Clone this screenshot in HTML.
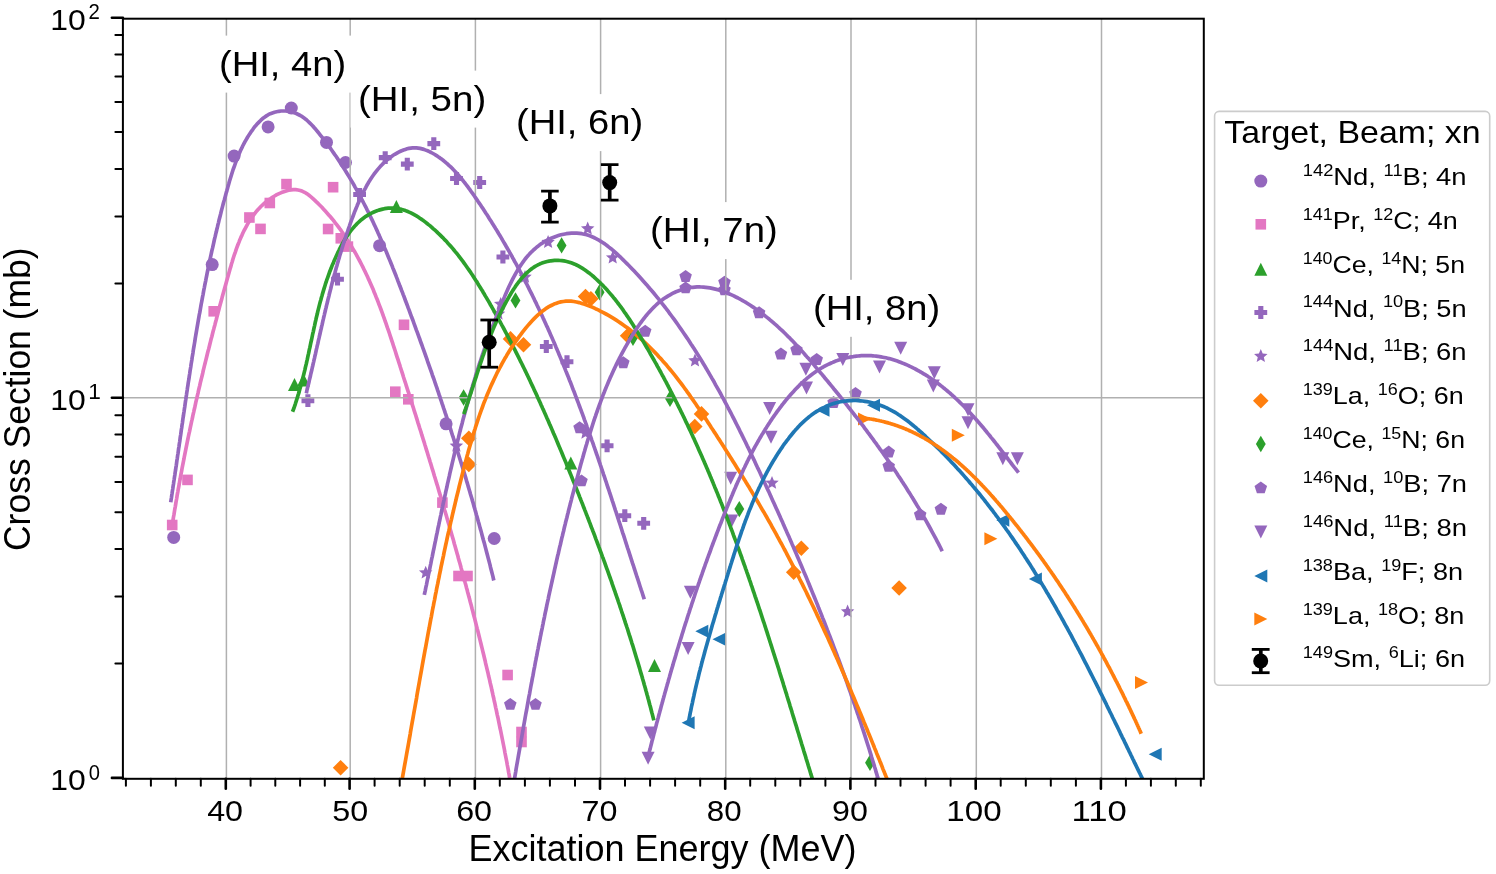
<!DOCTYPE html><html><head><meta charset="utf-8"><style>html,body{margin:0;padding:0;background:#fff;}svg{display:block;will-change:transform;}text{font-family:"Liberation Sans",sans-serif;}</style></head><body>
<svg width="1496" height="874" viewBox="0 0 1496 874">
<rect width="1496" height="874" fill="#fff"/>
<defs><clipPath id="ax"><rect x="122.9" y="18.7" width="1080.9" height="760.1"/></clipPath></defs>
<g clip-path="url(#ax)">
<g fill="#9467bd">
<circle cx="173.70" cy="537.40" r="6.50"/>
<circle cx="212.20" cy="264.60" r="6.50"/>
<circle cx="234.10" cy="156.10" r="6.50"/>
<circle cx="268.10" cy="126.90" r="6.50"/>
<circle cx="291.30" cy="108.00" r="6.50"/>
<circle cx="326.50" cy="142.40" r="6.50"/>
<circle cx="345.50" cy="162.50" r="6.50"/>
<circle cx="379.60" cy="245.70" r="6.50"/>
<circle cx="446.10" cy="423.80" r="6.50"/>
<circle cx="494.20" cy="538.50" r="6.50"/>
</g>
<g fill="#e377c2">
<rect x="166.90" y="519.70" width="10.60" height="10.60"/>
<rect x="182.20" y="474.60" width="10.60" height="10.60"/>
<rect x="208.40" y="306.00" width="10.60" height="10.60"/>
<rect x="244.10" y="212.20" width="10.60" height="10.60"/>
<rect x="255.20" y="223.60" width="10.60" height="10.60"/>
<rect x="264.50" y="197.70" width="10.60" height="10.60"/>
<rect x="281.20" y="178.80" width="10.60" height="10.60"/>
<rect x="327.80" y="181.90" width="10.60" height="10.60"/>
<rect x="322.80" y="223.70" width="10.60" height="10.60"/>
<rect x="335.50" y="233.00" width="10.60" height="10.60"/>
<rect x="342.60" y="241.30" width="10.60" height="10.60"/>
<rect x="390.00" y="386.40" width="10.60" height="10.60"/>
<rect x="398.70" y="319.50" width="10.60" height="10.60"/>
<rect x="403.00" y="394.00" width="10.60" height="10.60"/>
<rect x="437.10" y="497.30" width="10.60" height="10.60"/>
<rect x="453.20" y="570.70" width="10.60" height="10.60"/>
<rect x="462.20" y="570.70" width="10.60" height="10.60"/>
<rect x="502.30" y="669.70" width="10.60" height="10.60"/>
<rect x="516.20" y="726.70" width="10.60" height="10.60"/>
<rect x="516.20" y="736.70" width="10.60" height="10.60"/>
</g>
<g fill="#2ca02c">
<path d="M294.50,378.00 L288.00,391.00 L301.00,391.00Z"/>
<path d="M303.50,373.50 L297.00,386.50 L310.00,386.50Z"/>
<path d="M396.40,199.90 L389.90,212.90 L402.90,212.90Z"/>
<path d="M570.80,456.50 L564.30,469.50 L577.30,469.50Z"/>
<path d="M654.50,659.00 L648.00,672.00 L661.00,672.00Z"/>
</g>
<g fill="#9467bd">
<path d="M305.34,394.30 L310.46,394.30 L310.46,398.14 L314.30,398.14 L314.30,403.26 L310.46,403.26 L310.46,407.10 L305.34,407.10 L305.34,403.26 L301.50,403.26 L301.50,398.14 L305.34,398.14Z"/>
<path d="M334.94,272.80 L340.06,272.80 L340.06,276.64 L343.90,276.64 L343.90,281.76 L340.06,281.76 L340.06,285.60 L334.94,285.60 L334.94,281.76 L331.10,281.76 L331.10,276.64 L334.94,276.64Z"/>
<path d="M357.04,188.10 L362.16,188.10 L362.16,191.94 L366.00,191.94 L366.00,197.06 L362.16,197.06 L362.16,200.90 L357.04,200.90 L357.04,197.06 L353.20,197.06 L353.20,191.94 L357.04,191.94Z"/>
<path d="M382.64,151.20 L387.76,151.20 L387.76,155.04 L391.60,155.04 L391.60,160.16 L387.76,160.16 L387.76,164.00 L382.64,164.00 L382.64,160.16 L378.80,160.16 L378.80,155.04 L382.64,155.04Z"/>
<path d="M404.74,157.70 L409.86,157.70 L409.86,161.54 L413.70,161.54 L413.70,166.66 L409.86,166.66 L409.86,170.50 L404.74,170.50 L404.74,166.66 L400.90,166.66 L400.90,161.54 L404.74,161.54Z"/>
<path d="M431.24,137.20 L436.36,137.20 L436.36,141.04 L440.20,141.04 L440.20,146.16 L436.36,146.16 L436.36,150.00 L431.24,150.00 L431.24,146.16 L427.40,146.16 L427.40,141.04 L431.24,141.04Z"/>
<path d="M453.94,172.10 L459.06,172.10 L459.06,175.94 L462.90,175.94 L462.90,181.06 L459.06,181.06 L459.06,184.90 L453.94,184.90 L453.94,181.06 L450.10,181.06 L450.10,175.94 L453.94,175.94Z"/>
<path d="M477.14,176.10 L482.26,176.10 L482.26,179.94 L486.10,179.94 L486.10,185.06 L482.26,185.06 L482.26,188.90 L477.14,188.90 L477.14,185.06 L473.30,185.06 L473.30,179.94 L477.14,179.94Z"/>
<path d="M500.34,250.60 L505.46,250.60 L505.46,254.44 L509.30,254.44 L509.30,259.56 L505.46,259.56 L505.46,263.40 L500.34,263.40 L500.34,259.56 L496.50,259.56 L496.50,254.44 L500.34,254.44Z"/>
<path d="M543.74,340.10 L548.86,340.10 L548.86,343.94 L552.70,343.94 L552.70,349.06 L548.86,349.06 L548.86,352.90 L543.74,352.90 L543.74,349.06 L539.90,349.06 L539.90,343.94 L543.74,343.94Z"/>
<path d="M564.44,355.30 L569.56,355.30 L569.56,359.14 L573.40,359.14 L573.40,364.26 L569.56,364.26 L569.56,368.10 L564.44,368.10 L564.44,364.26 L560.60,364.26 L560.60,359.14 L564.44,359.14Z"/>
<path d="M604.54,439.40 L609.66,439.40 L609.66,443.24 L613.50,443.24 L613.50,448.36 L609.66,448.36 L609.66,452.20 L604.54,452.20 L604.54,448.36 L600.70,448.36 L600.70,443.24 L604.54,443.24Z"/>
<path d="M622.24,509.30 L627.36,509.30 L627.36,513.14 L631.20,513.14 L631.20,518.26 L627.36,518.26 L627.36,522.10 L622.24,522.10 L622.24,518.26 L618.40,518.26 L618.40,513.14 L622.24,513.14Z"/>
<path d="M641.14,516.90 L646.26,516.90 L646.26,520.74 L650.10,520.74 L650.10,525.86 L646.26,525.86 L646.26,529.70 L641.14,529.70 L641.14,525.86 L637.30,525.86 L637.30,520.74 L641.14,520.74Z"/>
</g>
<g fill="#9467bd">
<path d="M425.70,565.70 L423.82,570.22 L418.95,570.61 L422.66,573.79 L421.53,578.54 L425.70,576.00 L429.87,578.54 L428.74,573.79 L432.45,570.61 L427.58,570.22Z"/>
<path d="M456.40,438.80 L454.52,443.32 L449.65,443.71 L453.36,446.89 L452.23,451.64 L456.40,449.09 L460.57,451.64 L459.44,446.89 L463.15,443.71 L458.28,443.32Z"/>
<path d="M498.50,306.80 L496.62,311.32 L491.75,311.71 L495.46,314.89 L494.33,319.64 L498.50,317.09 L502.67,319.64 L501.54,314.89 L505.25,311.71 L500.38,311.32Z"/>
<path d="M500.70,297.00 L498.82,301.52 L493.95,301.91 L497.66,305.09 L496.53,309.84 L500.70,307.30 L504.87,309.84 L503.74,305.09 L507.45,301.91 L502.58,301.52Z"/>
<path d="M525.00,269.90 L523.12,274.42 L518.25,274.81 L521.96,277.99 L520.83,282.74 L525.00,280.19 L529.17,282.74 L528.04,277.99 L531.75,274.81 L526.88,274.42Z"/>
<path d="M548.10,235.10 L546.22,239.62 L541.35,240.01 L545.06,243.19 L543.93,247.94 L548.10,245.39 L552.27,247.94 L551.14,243.19 L554.85,240.01 L549.98,239.62Z"/>
<path d="M587.70,221.60 L585.82,226.12 L580.95,226.51 L584.66,229.69 L583.53,234.44 L587.70,231.89 L591.87,234.44 L590.74,229.69 L594.45,226.51 L589.58,226.12Z"/>
<path d="M612.70,250.70 L610.82,255.22 L605.95,255.61 L609.66,258.79 L608.53,263.54 L612.70,261.00 L616.87,263.54 L615.74,258.79 L619.45,255.61 L614.58,255.22Z"/>
<path d="M585.50,425.90 L583.62,430.42 L578.75,430.81 L582.46,433.99 L581.33,438.74 L585.50,436.19 L589.67,438.74 L588.54,433.99 L592.25,430.81 L587.38,430.42Z"/>
<path d="M695.00,353.60 L693.12,358.12 L688.25,358.51 L691.96,361.69 L690.83,366.44 L695.00,363.89 L699.17,366.44 L698.04,361.69 L701.75,358.51 L696.88,358.12Z"/>
<path d="M772.00,475.90 L770.12,480.42 L765.25,480.81 L768.96,483.99 L767.83,488.74 L772.00,486.19 L776.17,488.74 L775.04,483.99 L778.75,480.81 L773.88,480.42Z"/>
<path d="M847.60,604.60 L845.72,609.12 L840.85,609.51 L844.56,612.69 L843.43,617.44 L847.60,614.90 L851.77,617.44 L850.64,612.69 L854.35,609.51 L849.48,609.12Z"/>
</g>
<g fill="#ff7f0e">
<path d="M340.60,759.92 L348.38,767.70 L340.60,775.48 L332.82,767.70Z"/>
<path d="M468.80,430.42 L476.58,438.20 L468.80,445.98 L461.02,438.20Z"/>
<path d="M468.80,456.62 L476.58,464.40 L468.80,472.18 L461.02,464.40Z"/>
<path d="M510.50,331.12 L518.28,338.90 L510.50,346.68 L502.72,338.90Z"/>
<path d="M523.50,337.02 L531.28,344.80 L523.50,352.58 L515.72,344.80Z"/>
<path d="M585.50,288.72 L593.28,296.50 L585.50,304.28 L577.72,296.50Z"/>
<path d="M590.90,290.92 L598.68,298.70 L590.90,306.48 L583.12,298.70Z"/>
<path d="M627.60,327.92 L635.38,335.70 L627.60,343.48 L619.82,335.70Z"/>
<path d="M694.80,418.72 L702.58,426.50 L694.80,434.28 L687.02,426.50Z"/>
<path d="M701.50,406.12 L709.28,413.90 L701.50,421.68 L693.72,413.90Z"/>
<path d="M801.30,540.52 L809.08,548.30 L801.30,556.08 L793.52,548.30Z"/>
<path d="M793.70,564.42 L801.48,572.20 L793.70,579.98 L785.92,572.20Z"/>
<path d="M899.10,580.22 L906.88,588.00 L899.10,595.78 L891.32,588.00Z"/>
</g>
<g fill="#2ca02c">
<path d="M463.60,389.30 L468.52,397.50 L463.60,405.70 L458.68,397.50Z"/>
<path d="M515.50,292.20 L520.42,300.40 L515.50,308.60 L510.58,300.40Z"/>
<path d="M561.60,237.20 L566.52,245.40 L561.60,253.60 L556.68,245.40Z"/>
<path d="M599.60,284.00 L604.52,292.20 L599.60,300.40 L594.68,292.20Z"/>
<path d="M633.00,329.60 L637.92,337.80 L633.00,346.00 L628.08,337.80Z"/>
<path d="M670.00,390.50 L674.92,398.70 L670.00,406.90 L665.08,398.70Z"/>
<path d="M739.30,500.90 L744.22,509.10 L739.30,517.30 L734.38,509.10Z"/>
<path d="M870.00,754.60 L874.92,762.80 L870.00,771.00 L865.08,762.80Z"/>
</g>
<g fill="#9467bd">
<path d="M510.30,697.90 L504.02,702.46 L506.42,709.84 L514.18,709.84 L516.58,702.46Z"/>
<path d="M535.50,697.90 L529.22,702.46 L531.62,709.84 L539.38,709.84 L541.78,702.46Z"/>
<path d="M579.60,421.20 L573.32,425.76 L575.72,433.14 L583.48,433.14 L585.88,425.76Z"/>
<path d="M581.50,474.40 L575.22,478.96 L577.62,486.34 L585.38,486.34 L587.78,478.96Z"/>
<path d="M623.30,356.20 L617.02,360.76 L619.42,368.14 L627.18,368.14 L629.58,360.76Z"/>
<path d="M645.20,324.70 L638.92,329.26 L641.32,336.64 L649.08,336.64 L651.48,329.26Z"/>
<path d="M685.60,270.00 L679.32,274.56 L681.72,281.94 L689.48,281.94 L691.88,274.56Z"/>
<path d="M685.60,281.40 L679.32,285.96 L681.72,293.34 L689.48,293.34 L691.88,285.96Z"/>
<path d="M724.50,275.70 L718.22,280.26 L720.62,287.64 L728.38,287.64 L730.78,280.26Z"/>
<path d="M724.50,283.20 L718.22,287.76 L720.62,295.14 L728.38,295.14 L730.78,287.76Z"/>
<path d="M759.10,306.20 L752.82,310.76 L755.22,318.14 L762.98,318.14 L765.38,310.76Z"/>
<path d="M780.90,347.50 L774.62,352.06 L777.02,359.44 L784.78,359.44 L787.18,352.06Z"/>
<path d="M796.50,343.20 L790.22,347.76 L792.62,355.14 L800.38,355.14 L802.78,347.76Z"/>
<path d="M816.70,353.00 L810.42,357.56 L812.82,364.94 L820.58,364.94 L822.98,357.56Z"/>
<path d="M833.60,396.00 L827.32,400.56 L829.72,407.94 L837.48,407.94 L839.88,400.56Z"/>
<path d="M855.50,387.00 L849.22,391.56 L851.62,398.94 L859.38,398.94 L861.78,391.56Z"/>
<path d="M888.70,445.60 L882.42,450.16 L884.82,457.54 L892.58,457.54 L894.98,450.16Z"/>
<path d="M888.70,459.70 L882.42,464.26 L884.82,471.64 L892.58,471.64 L894.98,464.26Z"/>
<path d="M920.20,508.20 L913.92,512.76 L916.32,520.14 L924.08,520.14 L926.48,512.76Z"/>
<path d="M940.90,502.70 L934.62,507.26 L937.02,514.64 L944.78,514.64 L947.18,507.26Z"/>
</g>
<g fill="#9467bd">
<path d="M648.10,764.70 L641.60,751.70 L654.60,751.70Z"/>
<path d="M650.30,739.50 L643.80,726.50 L656.80,726.50Z"/>
<path d="M688.10,654.90 L681.60,641.90 L694.60,641.90Z"/>
<path d="M690.40,598.80 L683.90,585.80 L696.90,585.80Z"/>
<path d="M730.70,484.80 L724.20,471.80 L737.20,471.80Z"/>
<path d="M731.70,527.60 L725.20,514.60 L738.20,514.60Z"/>
<path d="M769.60,415.00 L763.10,402.00 L776.10,402.00Z"/>
<path d="M771.00,443.70 L764.50,430.70 L777.50,430.70Z"/>
<path d="M805.90,375.80 L799.40,362.80 L812.40,362.80Z"/>
<path d="M806.50,394.60 L800.00,381.60 L813.00,381.60Z"/>
<path d="M842.80,366.10 L836.30,353.10 L849.30,353.10Z"/>
<path d="M879.50,373.50 L873.00,360.50 L886.00,360.50Z"/>
<path d="M900.70,354.80 L894.20,341.80 L907.20,341.80Z"/>
<path d="M934.30,379.30 L927.80,366.30 L940.80,366.30Z"/>
<path d="M933.30,392.40 L926.80,379.40 L939.80,379.40Z"/>
<path d="M968.00,416.30 L961.50,403.30 L974.50,403.30Z"/>
<path d="M968.00,429.30 L961.50,416.30 L974.50,416.30Z"/>
<path d="M1002.80,465.20 L996.30,452.20 L1009.30,452.20Z"/>
<path d="M1017.40,465.20 L1010.90,452.20 L1023.90,452.20Z"/>
</g>
<g fill="#1f77b4">
<path d="M681.60,722.70 L694.60,716.20 L694.60,729.20Z"/>
<path d="M695.30,631.20 L708.30,624.70 L708.30,637.70Z"/>
<path d="M712.50,639.20 L725.50,632.70 L725.50,645.70Z"/>
<path d="M816.50,410.20 L829.50,403.70 L829.50,416.70Z"/>
<path d="M867.00,405.30 L880.00,398.80 L880.00,411.80Z"/>
<path d="M996.30,520.20 L1009.30,513.70 L1009.30,526.70Z"/>
<path d="M1028.90,578.90 L1041.90,572.40 L1041.90,585.40Z"/>
<path d="M1148.70,754.30 L1161.70,747.80 L1161.70,760.80Z"/>
</g>
<g fill="#ff7f0e">
<path d="M871.00,419.00 L858.00,412.50 L858.00,425.50Z"/>
<path d="M964.80,435.20 L951.80,428.70 L951.80,441.70Z"/>
<path d="M997.40,538.70 L984.40,532.20 L984.40,545.20Z"/>
<path d="M1148.00,682.60 L1135.00,676.10 L1135.00,689.10Z"/>
</g>
<g stroke="#b0b0b0" stroke-width="1.5">
<line x1="226.4" y1="18.7" x2="226.4" y2="778.8"/>
<line x1="350.2" y1="18.7" x2="350.2" y2="778.8"/>
<line x1="475.4" y1="18.7" x2="475.4" y2="778.8"/>
<line x1="600.6" y1="18.7" x2="600.6" y2="778.8"/>
<line x1="725.8" y1="18.7" x2="725.8" y2="778.8"/>
<line x1="851.0" y1="18.7" x2="851.0" y2="778.8"/>
<line x1="976.3" y1="18.7" x2="976.3" y2="778.8"/>
<line x1="1101.5" y1="18.7" x2="1101.5" y2="778.8"/>
<line x1="122.9" y1="397.7" x2="1203.8" y2="397.7"/>
</g>
<g fill="none" stroke-width="3.7" stroke-linecap="square" stroke-linejoin="round">
<path stroke="#9467bd" d="M171.0,500.4 L171.4,498.0 L171.7,495.7 L172.1,493.3 L172.4,491.0 L172.8,488.7 L173.1,486.3 L173.5,484.0 L173.8,481.6 L174.2,479.3 L174.5,477.0 L174.9,474.6 L175.2,472.3 L175.6,469.9 L175.9,467.6 L176.3,465.2 L176.6,462.9 L176.9,460.5 L177.3,458.2 L177.6,455.8 L178.0,453.5 L178.3,451.2 L178.6,448.8 L179.0,446.5 L179.3,444.1 L179.7,441.8 L180.0,439.4 L180.3,437.1 L180.7,434.7 L181.0,432.4 L181.3,430.0 L181.7,427.7 L182.0,425.3 L182.4,423.0 L182.7,420.6 L183.0,418.3 L183.4,415.9 L183.7,413.6 L184.1,411.3 L184.4,408.9 L184.8,406.6 L185.1,404.2 L185.4,401.9 L185.8,399.5 L186.1,397.2 L186.5,394.8 L186.8,392.5 L187.2,390.1 L187.5,387.8 L187.9,385.4 L188.2,383.1 L188.6,380.7 L189.0,378.4 L189.3,376.1 L189.7,373.7 L190.0,371.4 L190.4,369.0 L190.8,366.7 L191.1,364.3 L191.5,362.0 L191.9,359.6 L192.2,357.3 L192.6,355.0 L193.0,352.6 L193.3,350.3 L193.7,347.9 L194.1,345.6 L194.5,343.3 L194.9,340.9 L195.2,338.6 L195.6,336.2 L196.0,333.9 L196.4,331.6 L196.8,329.2 L197.2,326.9 L197.6,324.6 L198.0,322.2 L198.4,319.9 L198.8,317.6 L199.2,315.2 L199.7,312.9 L200.1,310.6 L200.5,308.2 L200.9,305.9 L201.3,303.6 L201.8,301.2 L202.2,298.9 L202.6,296.6 L203.1,294.3 L203.5,291.9 L203.9,289.6 L204.4,287.3 L204.8,285.0 L205.3,282.6 L205.8,280.3 L206.2,278.0 L206.7,275.7 L207.1,273.4 L207.6,271.0 L208.1,268.7 L208.6,266.4 L209.1,264.1 L209.5,261.8 L210.0,259.5 L210.5,257.2 L211.0,254.9 L211.5,252.5 L212.0,250.2 L212.6,247.9 L213.1,245.6 L213.6,243.3 L214.1,241.0 L214.6,238.7 L215.2,236.4 L215.7,234.1 L216.3,231.8 L216.8,229.5 L217.4,227.2 L217.9,224.9 L218.5,222.6 L219.0,220.3 L219.6,218.0 L220.2,215.7 L220.8,213.4 L221.3,211.2 L221.9,208.9 L222.5,206.6 L223.1,204.3 L223.7,202.0 L224.4,199.7 L225.0,197.5 L225.6,195.2 L226.2,192.9 L226.9,190.6 L227.5,188.4 L228.1,186.1 L228.8,183.8 L229.4,181.5 L230.1,179.3 L230.8,177.0 L231.5,174.8 L232.2,172.5 L232.9,170.2 L233.7,168.0 L234.5,165.8 L235.3,163.5 L236.1,161.3 L236.9,159.1 L237.8,156.9 L238.7,154.7 L239.7,152.5 L240.6,150.3 L241.7,148.2 L242.7,146.0 L243.8,143.9 L245.0,141.7 L246.2,139.6 L247.4,137.5 L248.7,135.4 L250.0,133.4 L251.4,131.3 L252.9,129.3 L254.3,127.3 L255.9,125.4 L257.5,123.6 L259.2,121.9 L260.9,120.2 L262.6,118.6 L264.5,117.2 L266.4,115.9 L268.3,114.7 L270.3,113.7 L272.4,112.9 L274.5,112.2 L276.6,111.7 L278.8,111.3 L281.0,111.0 L283.2,111.0 L285.4,111.0 L287.6,111.2 L289.8,111.6 L292.0,112.1 L294.2,112.8 L296.3,113.5 L298.3,114.5 L300.3,115.5 L302.3,116.7 L304.1,118.0 L306.0,119.4 L307.7,121.0 L309.4,122.6 L311.1,124.3 L312.8,126.0 L314.3,127.8 L315.9,129.6 L317.5,131.5 L319.0,133.4 L320.5,135.3 L322.0,137.2 L323.5,139.1 L324.9,141.0 L326.4,142.9 L327.8,144.8 L329.3,146.8 L330.7,148.7 L332.1,150.7 L333.4,152.6 L334.8,154.6 L336.2,156.5 L337.5,158.5 L338.8,160.5 L340.1,162.5 L341.4,164.5 L342.7,166.5 L344.0,168.5 L345.3,170.5 L346.5,172.5 L347.7,174.5 L349.0,176.6 L350.2,178.6 L351.4,180.6 L352.6,182.7 L353.8,184.7 L354.9,186.8 L356.1,188.9 L357.2,190.9 L358.4,193.0 L359.5,195.1 L360.6,197.2 L361.7,199.3 L362.8,201.4 L363.9,203.5 L365.0,205.6 L366.1,207.7 L367.1,209.8 L368.2,211.9 L369.2,214.0 L370.2,216.1 L371.3,218.3 L372.3,220.4 L373.3,222.5 L374.3,224.7 L375.3,226.8 L376.3,229.0 L377.3,231.1 L378.2,233.3 L379.2,235.4 L380.1,237.6 L381.1,239.7 L382.0,241.9 L383.0,244.1 L383.9,246.3 L384.8,248.4 L385.8,250.6 L386.7,252.8 L387.6,255.0 L388.5,257.2 L389.4,259.4 L390.3,261.5 L391.2,263.7 L392.1,265.9 L392.9,268.1 L393.8,270.3 L394.7,272.5 L395.6,274.7 L396.4,276.9 L397.3,279.1 L398.1,281.3 L399.0,283.6 L399.8,285.8 L400.7,288.0 L401.5,290.2 L402.4,292.4 L403.2,294.6 L404.1,296.8 L404.9,299.0 L405.7,301.3 L406.6,303.5 L407.4,305.7 L408.2,307.9 L409.1,310.1 L409.9,312.4 L410.7,314.6 L411.5,316.8 L412.4,319.0 L413.2,321.2 L414.0,323.5 L414.8,325.7 L415.6,327.9 L416.4,330.1 L417.3,332.4 L418.1,334.6 L418.9,336.8 L419.7,339.0 L420.5,341.3 L421.3,343.5 L422.1,345.7 L422.9,348.0 L423.7,350.2 L424.5,352.4 L425.3,354.7 L426.1,356.9 L426.9,359.1 L427.6,361.3 L428.4,363.6 L429.2,365.8 L430.0,368.1 L430.8,370.3 L431.6,372.5 L432.3,374.8 L433.1,377.0 L433.9,379.2 L434.7,381.5 L435.4,383.7 L436.2,386.0 L437.0,388.2 L437.7,390.4 L438.5,392.7 L439.2,394.9 L440.0,397.2 L440.7,399.4 L441.5,401.7 L442.2,403.9 L443.0,406.2 L443.7,408.4 L444.5,410.6 L445.2,412.9 L446.0,415.1 L446.7,417.4 L447.4,419.6 L448.2,421.9 L448.9,424.1 L449.6,426.4 L450.4,428.6 L451.1,430.9 L451.8,433.2 L452.5,435.4 L453.3,437.7 L454.0,439.9 L454.7,442.2 L455.4,444.4 L456.1,446.7 L456.8,448.9 L457.5,451.2 L458.2,453.5 L458.9,455.7 L459.6,458.0 L460.3,460.2 L461.0,462.5 L461.7,464.8 L462.4,467.0 L463.1,469.3 L463.8,471.6 L464.5,473.8 L465.2,476.1 L465.9,478.4 L466.5,480.6 L467.2,482.9 L467.9,485.2 L468.5,487.4 L469.2,489.7 L469.9,492.0 L470.5,494.2 L471.2,496.5 L471.9,498.8 L472.5,501.0 L473.2,503.3 L473.8,505.6 L474.5,507.9 L475.1,510.1 L475.8,512.4 L476.4,514.7 L477.1,517.0 L477.7,519.2 L478.3,521.5 L479.0,523.8 L479.6,526.1 L480.2,528.4 L480.9,530.6 L481.5,532.9 L482.1,535.2 L482.7,537.5 L483.3,539.8 L484.0,542.1 L484.6,544.3 L485.2,546.6 L485.8,548.9 L486.4,551.2 L487.0,553.5 L487.6,555.8 L488.2,558.1 L488.8,560.3 L489.4,562.6 L490.0,564.9 L490.5,567.2 L491.1,569.5 L491.7,571.8 L492.3,574.1 L492.9,576.4 L493.4,578.7"/>
<path stroke="#e377c2" d="M172.7,522.2 L173.1,519.6 L173.5,517.0 L174.0,514.4 L174.4,511.8 L174.8,509.2 L175.3,506.6 L175.7,504.1 L176.1,501.5 L176.6,499.0 L177.0,496.4 L177.4,493.9 L177.9,491.3 L178.3,488.8 L178.8,486.3 L179.3,483.7 L179.7,481.2 L180.2,478.7 L180.6,476.2 L181.1,473.7 L181.6,471.2 L182.0,468.7 L182.5,466.2 L183.0,463.7 L183.5,461.2 L184.0,458.7 L184.4,456.3 L184.9,453.8 L185.4,451.3 L185.9,448.8 L186.4,446.4 L186.9,443.9 L187.4,441.4 L187.9,439.0 L188.4,436.5 L188.9,434.1 L189.5,431.6 L190.0,429.2 L190.5,426.7 L191.0,424.3 L191.5,421.9 L192.1,419.4 L192.6,417.0 L193.1,414.5 L193.7,412.1 L194.2,409.7 L194.8,407.2 L195.3,404.8 L195.8,402.4 L196.4,399.9 L197.0,397.5 L197.5,395.1 L198.1,392.7 L198.6,390.2 L199.2,387.8 L199.8,385.4 L200.3,382.9 L200.9,380.5 L201.5,378.1 L202.1,375.7 L202.7,373.2 L203.2,370.8 L203.8,368.4 L204.4,365.9 L205.0,363.5 L205.6,361.1 L206.2,358.7 L206.8,356.2 L207.4,353.8 L208.0,351.3 L208.7,348.9 L209.3,346.5 L209.9,344.0 L210.5,341.6 L211.1,339.1 L211.8,336.7 L212.4,334.2 L213.0,331.8 L213.7,329.3 L214.3,326.9 L215.0,324.4 L215.6,322.0 L216.3,319.5 L216.9,317.0 L217.6,314.5 L218.2,312.1 L218.9,309.6 L219.5,307.1 L220.2,304.6 L220.9,302.1 L221.6,299.6 L222.2,297.1 L222.9,294.6 L223.6,292.1 L224.3,289.6 L225.0,287.1 L225.7,284.6 L226.4,282.1 L227.1,279.5 L227.8,277.0 L228.5,274.5 L229.2,271.9 L229.9,269.4 L230.7,266.9 L231.4,264.3 L232.2,261.8 L232.9,259.3 L233.7,256.8 L234.5,254.3 L235.4,251.8 L236.2,249.4 L237.1,246.9 L238.0,244.5 L239.0,242.1 L239.9,239.7 L240.9,237.4 L242.0,235.1 L243.0,232.8 L244.1,230.5 L245.3,228.3 L246.5,226.1 L247.7,223.9 L249.0,221.8 L250.3,219.7 L251.6,217.7 L253.1,215.7 L254.5,213.8 L256.0,211.9 L257.6,210.0 L259.3,208.2 L260.9,206.5 L262.7,204.8 L264.5,203.2 L266.4,201.6 L268.3,200.1 L270.4,198.7 L272.4,197.3 L274.6,196.0 L276.8,194.7 L279.1,193.6 L281.4,192.6 L283.8,191.7 L286.2,190.9 L288.6,190.3 L291.0,189.9 L293.3,189.7 L295.7,189.7 L298.0,190.0 L300.3,190.5 L302.5,191.3 L304.6,192.3 L306.7,193.6 L308.7,195.0 L310.7,196.6 L312.7,198.3 L314.6,200.1 L316.4,201.9 L318.3,203.7 L320.1,205.5 L321.9,207.3 L323.6,209.2 L325.3,211.1 L327.0,213.0 L328.7,214.9 L330.4,216.8 L332.0,218.7 L333.6,220.7 L335.1,222.7 L336.7,224.6 L338.2,226.6 L339.7,228.7 L341.2,230.7 L342.6,232.7 L344.0,234.8 L345.5,236.9 L346.8,239.0 L348.2,241.1 L349.5,243.2 L350.8,245.3 L352.1,247.4 L353.4,249.6 L354.7,251.8 L355.9,253.9 L357.1,256.1 L358.3,258.3 L359.5,260.5 L360.7,262.8 L361.8,265.0 L362.9,267.2 L364.0,269.5 L365.1,271.7 L366.2,274.0 L367.3,276.3 L368.3,278.6 L369.4,280.9 L370.4,283.2 L371.4,285.5 L372.4,287.8 L373.4,290.1 L374.3,292.5 L375.3,294.8 L376.2,297.2 L377.2,299.5 L378.1,301.9 L379.0,304.3 L379.9,306.6 L380.8,309.0 L381.7,311.4 L382.6,313.8 L383.4,316.2 L384.3,318.6 L385.1,321.0 L386.0,323.4 L386.8,325.8 L387.6,328.2 L388.5,330.6 L389.3,333.0 L390.1,335.5 L390.9,337.9 L391.7,340.3 L392.5,342.7 L393.3,345.2 L394.1,347.6 L394.9,350.0 L395.7,352.5 L396.4,354.9 L397.2,357.3 L398.0,359.7 L398.8,362.2 L399.6,364.6 L400.3,367.0 L401.1,369.5 L401.9,371.9 L402.7,374.3 L403.4,376.7 L404.2,379.2 L405.0,381.6 L405.8,384.0 L406.5,386.4 L407.3,388.9 L408.1,391.3 L408.9,393.7 L409.6,396.1 L410.4,398.6 L411.2,401.0 L411.9,403.4 L412.7,405.8 L413.5,408.3 L414.2,410.7 L415.0,413.1 L415.8,415.5 L416.5,417.9 L417.3,420.4 L418.0,422.8 L418.8,425.2 L419.5,427.6 L420.3,430.0 L421.1,432.4 L421.8,434.9 L422.6,437.3 L423.3,439.7 L424.1,442.1 L424.8,444.5 L425.6,447.0 L426.3,449.4 L427.1,451.8 L427.8,454.2 L428.5,456.6 L429.3,459.0 L430.0,461.5 L430.8,463.9 L431.5,466.3 L432.2,468.7 L433.0,471.1 L433.7,473.5 L434.4,476.0 L435.2,478.4 L435.9,480.8 L436.6,483.2 L437.4,485.6 L438.1,488.0 L438.8,490.5 L439.5,492.9 L440.3,495.3 L441.0,497.7 L441.7,500.1 L442.4,502.5 L443.1,505.0 L443.8,507.4 L444.5,509.8 L445.3,512.2 L446.0,514.6 L446.7,517.1 L447.4,519.5 L448.1,521.9 L448.8,524.3 L449.5,526.7 L450.2,529.2 L450.9,531.6 L451.6,534.0 L452.3,536.4 L453.0,538.8 L453.7,541.3 L454.3,543.7 L455.0,546.1 L455.7,548.5 L456.4,551.0 L457.1,553.4 L457.8,555.8 L458.4,558.2 L459.1,560.7 L459.8,563.1 L460.5,565.5 L461.1,567.9 L461.8,570.4 L462.5,572.8 L463.1,575.2 L463.8,577.7 L464.5,580.1 L465.1,582.5 L465.8,584.9 L466.4,587.4 L467.1,589.8 L467.7,592.2 L468.4,594.7 L469.0,597.1 L469.7,599.6 L470.3,602.0 L471.0,604.4 L471.6,606.9 L472.2,609.3 L472.9,611.7 L473.5,614.2 L474.1,616.6 L474.8,619.1 L475.4,621.5 L476.0,623.9 L476.6,626.4 L477.2,628.8 L477.9,631.3 L478.5,633.7 L479.1,636.2 L479.7,638.6 L480.3,641.1 L480.9,643.5 L481.5,646.0 L482.1,648.4 L482.7,650.9 L483.3,653.3 L483.9,655.8 L484.5,658.3 L485.1,660.7 L485.6,663.2 L486.2,665.6 L486.8,668.1 L487.4,670.6 L488.0,673.0 L488.5,675.5 L489.1,677.9 L489.7,680.4 L490.2,682.9 L490.8,685.3 L491.4,687.8 L491.9,690.3 L492.5,692.8 L493.0,695.2 L493.6,697.7 L494.1,700.2 L494.7,702.7 L495.2,705.1 L495.7,707.6 L496.3,710.1 L496.8,712.6 L497.3,715.1 L497.9,717.5 L498.4,720.0 L498.9,722.5 L499.4,725.0 L499.9,727.5 L500.5,730.0 L501.0,732.5 L501.5,735.0 L502.0,737.5 L502.5,740.0 L503.0,742.5 L503.5,745.0 L504.0,747.5 L504.5,750.0 L504.9,752.5 L505.4,755.0 L505.9,757.5 L506.4,760.0 L506.9,762.5 L507.3,765.0 L507.8,767.5 L508.3,770.1 L508.7,772.6 L509.2,775.1 L509.6,777.6 L510.1,780.1"/>
<path stroke="#2ca02c" d="M293.2,410.0 L294.0,408.0 L294.7,405.9 L295.4,403.8 L296.0,401.8 L296.7,399.7 L297.3,397.7 L297.9,395.7 L298.6,393.6 L299.2,391.6 L299.7,389.5 L300.3,387.5 L300.9,385.5 L301.4,383.5 L301.9,381.4 L302.5,379.4 L303.0,377.4 L303.5,375.4 L304.0,373.4 L304.5,371.4 L305.0,369.4 L305.4,367.4 L305.9,365.4 L306.4,363.4 L306.8,361.4 L307.3,359.4 L307.7,357.4 L308.1,355.4 L308.6,353.4 L309.0,351.4 L309.4,349.4 L309.9,347.4 L310.3,345.4 L310.7,343.4 L311.1,341.5 L311.6,339.5 L312.0,337.5 L312.4,335.5 L312.8,333.5 L313.3,331.6 L313.7,329.6 L314.1,327.6 L314.6,325.6 L315.0,323.7 L315.4,321.7 L315.9,319.7 L316.3,317.7 L316.8,315.8 L317.3,313.8 L317.7,311.8 L318.2,309.9 L318.7,307.9 L319.2,305.9 L319.7,303.9 L320.2,302.0 L320.8,300.0 L321.3,298.0 L321.9,296.0 L322.4,294.1 L323.0,292.1 L323.6,290.1 L324.2,288.1 L324.8,286.2 L325.4,284.2 L326.1,282.2 L326.7,280.2 L327.4,278.3 L328.1,276.3 L328.8,274.3 L329.5,272.3 L330.3,270.3 L331.1,268.3 L331.8,266.4 L332.6,264.4 L333.5,262.4 L334.3,260.4 L335.2,258.4 L336.1,256.4 L337.0,254.4 L337.9,252.4 L338.9,250.5 L339.8,248.5 L340.8,246.6 L341.9,244.6 L343.0,242.7 L344.0,240.9 L345.2,239.0 L346.3,237.2 L347.5,235.4 L348.7,233.6 L350.0,231.9 L351.3,230.2 L352.6,228.6 L354.0,227.0 L355.4,225.4 L356.8,223.9 L358.3,222.5 L359.8,221.1 L361.4,219.7 L363.0,218.5 L364.6,217.3 L366.3,216.1 L368.0,215.1 L369.7,214.1 L371.5,213.1 L373.3,212.3 L375.1,211.5 L377.0,210.8 L378.8,210.1 L380.7,209.6 L382.6,209.1 L384.5,208.7 L386.4,208.4 L388.3,208.2 L390.2,208.1 L392.1,208.1 L394.0,208.2 L395.9,208.3 L397.8,208.6 L399.7,209.0 L401.6,209.4 L403.5,210.0 L405.4,210.6 L407.2,211.3 L409.1,212.1 L410.9,212.9 L412.8,213.9 L414.6,214.9 L416.4,215.9 L418.2,217.0 L419.9,218.2 L421.7,219.4 L423.4,220.6 L425.1,221.9 L426.8,223.2 L428.5,224.6 L430.2,225.9 L431.8,227.3 L433.4,228.8 L435.0,230.2 L436.6,231.6 L438.1,233.1 L439.7,234.6 L441.2,236.1 L442.7,237.6 L444.1,239.1 L445.6,240.6 L447.0,242.1 L448.4,243.7 L449.8,245.2 L451.2,246.8 L452.6,248.4 L453.9,250.0 L455.2,251.6 L456.6,253.2 L457.9,254.8 L459.1,256.5 L460.4,258.1 L461.7,259.8 L462.9,261.4 L464.1,263.1 L465.3,264.8 L466.5,266.5 L467.7,268.2 L468.9,269.9 L470.1,271.6 L471.2,273.3 L472.4,275.0 L473.5,276.7 L474.6,278.5 L475.7,280.2 L476.9,281.9 L477.9,283.7 L479.0,285.5 L480.1,287.2 L481.2,289.0 L482.3,290.7 L483.3,292.5 L484.4,294.3 L485.4,296.1 L486.5,297.9 L487.5,299.6 L488.6,301.4 L489.6,303.2 L490.6,305.0 L491.7,306.8 L492.7,308.6 L493.7,310.4 L494.7,312.2 L495.7,314.0 L496.7,315.8 L497.8,317.6 L498.7,319.4 L499.7,321.2 L500.7,323.0 L501.7,324.9 L502.7,326.7 L503.7,328.5 L504.7,330.3 L505.6,332.1 L506.6,334.0 L507.6,335.8 L508.5,337.6 L509.5,339.5 L510.5,341.3 L511.4,343.1 L512.4,345.0 L513.3,346.8 L514.2,348.7 L515.2,350.5 L516.1,352.4 L517.0,354.2 L518.0,356.1 L518.9,357.9 L519.8,359.8 L520.7,361.6 L521.7,363.5 L522.6,365.3 L523.5,367.2 L524.4,369.0 L525.3,370.9 L526.2,372.8 L527.1,374.6 L528.0,376.5 L528.9,378.4 L529.8,380.3 L530.6,382.1 L531.5,384.0 L532.4,385.9 L533.3,387.8 L534.1,389.6 L535.0,391.5 L535.9,393.4 L536.8,395.3 L537.6,397.2 L538.5,399.1 L539.3,400.9 L540.2,402.8 L541.0,404.7 L541.9,406.6 L542.7,408.5 L543.6,410.4 L544.4,412.3 L545.3,414.2 L546.1,416.1 L546.9,418.0 L547.8,419.9 L548.6,421.8 L549.4,423.7 L550.3,425.6 L551.1,427.5 L551.9,429.4 L552.7,431.3 L553.5,433.2 L554.4,435.1 L555.2,437.0 L556.0,438.9 L556.8,440.9 L557.6,442.8 L558.4,444.7 L559.2,446.6 L560.0,448.5 L560.8,450.4 L561.6,452.3 L562.4,454.3 L563.2,456.2 L564.0,458.1 L564.8,460.0 L565.6,461.9 L566.4,463.8 L567.1,465.8 L567.9,467.7 L568.7,469.6 L569.5,471.5 L570.3,473.5 L571.1,475.4 L571.8,477.3 L572.6,479.2 L573.4,481.2 L574.2,483.1 L574.9,485.0 L575.7,486.9 L576.5,488.9 L577.2,490.8 L578.0,492.7 L578.8,494.6 L579.5,496.6 L580.3,498.5 L581.0,500.4 L581.8,502.4 L582.6,504.3 L583.3,506.2 L584.1,508.2 L584.8,510.1 L585.6,512.0 L586.3,514.0 L587.1,515.9 L587.8,517.8 L588.6,519.8 L589.3,521.7 L590.1,523.6 L590.8,525.6 L591.5,527.5 L592.3,529.4 L593.0,531.4 L593.8,533.3 L594.5,535.2 L595.2,537.2 L595.9,539.1 L596.7,541.1 L597.4,543.0 L598.1,544.9 L598.8,546.9 L599.6,548.8 L600.3,550.8 L601.0,552.7 L601.7,554.7 L602.4,556.6 L603.2,558.5 L603.9,560.5 L604.6,562.4 L605.3,564.4 L606.0,566.3 L606.7,568.3 L607.4,570.2 L608.1,572.2 L608.8,574.1 L609.5,576.1 L610.2,578.0 L610.9,580.0 L611.6,581.9 L612.2,583.9 L612.9,585.8 L613.6,587.8 L614.3,589.8 L615.0,591.7 L615.6,593.7 L616.3,595.6 L617.0,597.6 L617.7,599.5 L618.3,601.5 L619.0,603.5 L619.7,605.4 L620.3,607.4 L621.0,609.3 L621.6,611.3 L622.3,613.3 L622.9,615.2 L623.6,617.2 L624.2,619.2 L624.9,621.1 L625.5,623.1 L626.2,625.1 L626.8,627.0 L627.5,629.0 L628.1,631.0 L628.7,633.0 L629.3,634.9 L630.0,636.9 L630.6,638.9 L631.2,640.8 L631.8,642.8 L632.5,644.8 L633.1,646.8 L633.7,648.8 L634.3,650.7 L634.9,652.7 L635.5,654.7 L636.1,656.7 L636.7,658.7 L637.3,660.6 L637.9,662.6 L638.5,664.6 L639.1,666.6 L639.7,668.6 L640.2,670.6 L640.8,672.6 L641.4,674.6 L642.0,676.5 L642.5,678.5 L643.1,680.5 L643.7,682.5 L644.2,684.5 L644.8,686.5 L645.4,688.5 L645.9,690.5 L646.5,692.5 L647.0,694.5 L647.6,696.5 L648.1,698.5 L648.7,700.5 L649.2,702.5 L649.7,704.5 L650.3,706.5 L650.8,708.5 L651.3,710.5 L651.8,712.5 L652.4,714.6 L652.9,716.6 L653.4,718.6"/>
<path stroke="#9467bd" d="M306.7,391.6 L307.1,389.5 L307.6,387.5 L308.1,385.5 L308.6,383.5 L309.1,381.5 L309.5,379.5 L310.0,377.5 L310.5,375.5 L310.9,373.5 L311.4,371.5 L311.9,369.5 L312.3,367.5 L312.8,365.5 L313.2,363.6 L313.7,361.6 L314.1,359.6 L314.6,357.7 L315.0,355.7 L315.5,353.7 L315.9,351.8 L316.3,349.8 L316.8,347.9 L317.2,345.9 L317.7,344.0 L318.1,342.1 L318.5,340.1 L319.0,338.2 L319.4,336.3 L319.9,334.3 L320.3,332.4 L320.7,330.5 L321.2,328.5 L321.6,326.6 L322.1,324.7 L322.5,322.8 L322.9,320.9 L323.4,318.9 L323.8,317.0 L324.3,315.1 L324.7,313.2 L325.2,311.3 L325.6,309.4 L326.1,307.5 L326.5,305.6 L327.0,303.7 L327.5,301.8 L327.9,299.9 L328.4,298.0 L328.9,296.1 L329.3,294.2 L329.8,292.3 L330.3,290.4 L330.8,288.5 L331.2,286.6 L331.7,284.7 L332.2,282.8 L332.7,280.9 L333.2,279.0 L333.7,277.1 L334.2,275.2 L334.8,273.3 L335.3,271.4 L335.8,269.5 L336.3,267.6 L336.9,265.7 L337.4,263.8 L338.0,261.9 L338.5,260.0 L339.1,258.1 L339.6,256.2 L340.2,254.3 L340.8,252.4 L341.4,250.5 L341.9,248.6 L342.5,246.7 L343.1,244.8 L343.7,242.9 L344.4,241.0 L345.0,239.1 L345.6,237.2 L346.3,235.2 L346.9,233.3 L347.6,231.4 L348.2,229.5 L348.9,227.6 L349.6,225.6 L350.2,223.7 L350.9,221.8 L351.6,219.9 L352.4,217.9 L353.1,216.0 L353.8,214.1 L354.5,212.1 L355.3,210.2 L356.1,208.3 L356.9,206.4 L357.6,204.5 L358.5,202.6 L359.3,200.7 L360.1,198.8 L361.0,196.9 L361.9,195.1 L362.8,193.2 L363.7,191.4 L364.6,189.6 L365.6,187.8 L366.5,186.0 L367.5,184.3 L368.5,182.5 L369.6,180.8 L370.7,179.1 L371.7,177.5 L372.9,175.8 L374.0,174.2 L375.2,172.6 L376.4,171.1 L377.6,169.6 L378.9,168.1 L380.2,166.6 L381.5,165.2 L382.8,163.9 L384.2,162.5 L385.6,161.2 L387.1,159.9 L388.6,158.7 L390.1,157.5 L391.6,156.4 L393.2,155.3 L394.8,154.3 L396.5,153.3 L398.2,152.3 L399.9,151.5 L401.7,150.7 L403.5,150.0 L405.3,149.4 L407.1,148.8 L408.9,148.4 L410.8,148.1 L412.6,147.9 L414.5,147.8 L416.4,147.9 L418.2,148.1 L420.1,148.4 L422.0,148.9 L423.9,149.4 L425.7,150.1 L427.6,150.8 L429.4,151.6 L431.2,152.5 L433.0,153.5 L434.8,154.5 L436.5,155.6 L438.2,156.8 L439.9,157.9 L441.5,159.1 L443.1,160.3 L444.7,161.6 L446.2,162.9 L447.8,164.2 L449.2,165.6 L450.7,166.9 L452.1,168.3 L453.5,169.8 L454.9,171.2 L456.3,172.7 L457.6,174.2 L458.9,175.7 L460.2,177.2 L461.5,178.7 L462.8,180.3 L464.0,181.9 L465.3,183.5 L466.5,185.1 L467.7,186.7 L468.9,188.3 L470.1,189.9 L471.2,191.6 L472.4,193.2 L473.6,194.8 L474.7,196.5 L475.8,198.1 L477.0,199.8 L478.1,201.5 L479.2,203.1 L480.4,204.8 L481.5,206.5 L482.6,208.1 L483.7,209.8 L484.8,211.5 L485.9,213.2 L487.0,214.8 L488.1,216.5 L489.1,218.2 L490.2,219.9 L491.3,221.6 L492.3,223.3 L493.4,225.0 L494.5,226.7 L495.5,228.4 L496.6,230.1 L497.6,231.8 L498.6,233.5 L499.7,235.2 L500.7,236.9 L501.7,238.6 L502.7,240.4 L503.7,242.1 L504.7,243.8 L505.7,245.5 L506.7,247.3 L507.7,249.0 L508.7,250.7 L509.7,252.5 L510.7,254.2 L511.7,255.9 L512.6,257.7 L513.6,259.4 L514.5,261.2 L515.5,262.9 L516.5,264.7 L517.4,266.4 L518.4,268.2 L519.3,269.9 L520.2,271.7 L521.2,273.4 L522.1,275.2 L523.0,277.0 L523.9,278.7 L524.8,280.5 L525.7,282.3 L526.7,284.0 L527.6,285.8 L528.5,287.6 L529.3,289.4 L530.2,291.1 L531.1,292.9 L532.0,294.7 L532.9,296.5 L533.8,298.3 L534.6,300.1 L535.5,301.9 L536.4,303.7 L537.2,305.5 L538.1,307.3 L538.9,309.0 L539.8,310.8 L540.6,312.6 L541.5,314.5 L542.3,316.3 L543.1,318.1 L544.0,319.9 L544.8,321.7 L545.6,323.5 L546.4,325.3 L547.3,327.1 L548.1,328.9 L548.9,330.8 L549.7,332.6 L550.5,334.4 L551.3,336.2 L552.1,338.0 L552.9,339.9 L553.7,341.7 L554.5,343.5 L555.3,345.4 L556.0,347.2 L556.8,349.0 L557.6,350.9 L558.4,352.7 L559.1,354.5 L559.9,356.4 L560.7,358.2 L561.4,360.0 L562.2,361.9 L562.9,363.7 L563.7,365.6 L564.4,367.4 L565.2,369.3 L565.9,371.1 L566.7,373.0 L567.4,374.8 L568.2,376.7 L568.9,378.5 L569.6,380.4 L570.4,382.2 L571.1,384.1 L571.8,385.9 L572.5,387.8 L573.2,389.7 L574.0,391.5 L574.7,393.4 L575.4,395.3 L576.1,397.1 L576.8,399.0 L577.5,400.9 L578.2,402.7 L578.9,404.6 L579.6,406.5 L580.3,408.3 L581.0,410.2 L581.7,412.1 L582.4,413.9 L583.1,415.8 L583.8,417.7 L584.4,419.6 L585.1,421.4 L585.8,423.3 L586.5,425.2 L587.1,427.1 L587.8,429.0 L588.5,430.8 L589.2,432.7 L589.8,434.6 L590.5,436.5 L591.2,438.4 L591.8,440.3 L592.5,442.1 L593.2,444.0 L593.8,445.9 L594.5,447.8 L595.1,449.7 L595.8,451.6 L596.4,453.5 L597.1,455.3 L597.7,457.2 L598.4,459.1 L599.0,461.0 L599.7,462.9 L600.3,464.8 L601.0,466.7 L601.6,468.6 L602.2,470.5 L602.9,472.4 L603.5,474.3 L604.2,476.2 L604.8,478.0 L605.4,479.9 L606.1,481.8 L606.7,483.7 L607.3,485.6 L607.9,487.5 L608.6,489.4 L609.2,491.3 L609.8,493.2 L610.5,495.1 L611.1,497.0 L611.7,498.9 L612.3,500.8 L613.0,502.7 L613.6,504.6 L614.2,506.5 L614.8,508.4 L615.4,510.3 L616.1,512.2 L616.7,514.1 L617.3,516.0 L617.9,517.9 L618.5,519.8 L619.1,521.7 L619.8,523.6 L620.4,525.5 L621.0,527.4 L621.6,529.3 L622.2,531.2 L622.8,533.1 L623.5,535.0 L624.1,536.9 L624.7,538.8 L625.3,540.7 L625.9,542.6 L626.5,544.5 L627.1,546.4 L627.7,548.3 L628.4,550.2 L629.0,552.1 L629.6,554.0 L630.2,555.9 L630.8,557.8 L631.4,559.6 L632.0,561.5 L632.6,563.4 L633.3,565.3 L633.9,567.2 L634.5,569.1 L635.1,571.0 L635.7,572.9 L636.3,574.8 L636.9,576.7 L637.6,578.6 L638.2,580.5 L638.8,582.4 L639.4,584.3 L640.0,586.2 L640.6,588.0 L641.2,589.9 L641.9,591.8 L642.5,593.7 L643.1,595.6 L643.7,597.5"/>
<path stroke="#9467bd" d="M424.7,593.0 L425.3,590.3 L425.8,587.7 L426.4,585.1 L426.9,582.5 L427.4,579.8 L428.0,577.2 L428.5,574.6 L429.1,572.0 L429.6,569.4 L430.1,566.8 L430.7,564.1 L431.2,561.5 L431.7,558.9 L432.3,556.3 L432.8,553.7 L433.3,551.1 L433.9,548.5 L434.4,545.9 L434.9,543.3 L435.5,540.7 L436.0,538.1 L436.5,535.5 L437.1,532.9 L437.6,530.3 L438.1,527.7 L438.7,525.2 L439.2,522.6 L439.8,520.0 L440.3,517.4 L440.9,514.8 L441.4,512.2 L441.9,509.6 L442.5,507.1 L443.0,504.5 L443.6,501.9 L444.2,499.3 L444.7,496.8 L445.3,494.2 L445.8,491.6 L446.4,489.1 L447.0,486.5 L447.5,483.9 L448.1,481.3 L448.7,478.8 L449.3,476.2 L449.8,473.7 L450.4,471.1 L451.0,468.5 L451.6,466.0 L452.2,463.4 L452.8,460.9 L453.4,458.3 L454.0,455.8 L454.6,453.2 L455.2,450.7 L455.8,448.1 L456.5,445.6 L457.1,443.0 L457.7,440.5 L458.4,437.9 L459.0,435.4 L459.6,432.8 L460.3,430.3 L460.9,427.7 L461.6,425.2 L462.3,422.7 L462.9,420.1 L463.6,417.6 L464.3,415.1 L465.0,412.5 L465.7,410.0 L466.4,407.5 L467.1,404.9 L467.8,402.4 L468.5,399.9 L469.2,397.3 L470.0,394.8 L470.7,392.3 L471.4,389.8 L472.2,387.2 L472.9,384.7 L473.7,382.2 L474.5,379.7 L475.3,377.1 L476.0,374.6 L476.8,372.1 L477.6,369.6 L478.4,367.1 L479.2,364.5 L480.1,362.0 L480.9,359.5 L481.7,357.0 L482.6,354.5 L483.4,352.0 L484.3,349.5 L485.2,347.0 L486.0,344.4 L486.9,341.9 L487.8,339.4 L488.7,336.9 L489.6,334.4 L490.6,331.9 L491.5,329.4 L492.4,326.9 L493.4,324.4 L494.3,321.9 L495.3,319.4 L496.3,316.9 L497.3,314.4 L498.3,311.9 L499.3,309.4 L500.3,306.9 L501.3,304.4 L502.3,301.9 L503.4,299.4 L504.5,296.9 L505.5,294.4 L506.6,291.9 L507.7,289.4 L508.8,287.0 L510.0,284.5 L511.2,282.1 L512.4,279.7 L513.6,277.3 L514.9,275.0 L516.2,272.6 L517.5,270.3 L518.9,268.1 L520.3,265.9 L521.8,263.7 L523.3,261.6 L524.8,259.5 L526.4,257.5 L528.1,255.6 L529.8,253.6 L531.6,251.8 L533.5,250.0 L535.4,248.3 L537.3,246.7 L539.4,245.1 L541.5,243.6 L543.7,242.2 L546.0,240.9 L548.3,239.6 L550.7,238.5 L553.2,237.4 L555.8,236.4 L558.4,235.6 L561.0,234.8 L563.6,234.2 L566.3,233.7 L569.0,233.4 L571.6,233.1 L574.2,233.0 L576.8,233.1 L579.4,233.3 L581.9,233.7 L584.3,234.2 L586.7,234.8 L589.1,235.6 L591.5,236.5 L593.8,237.5 L596.0,238.6 L598.3,239.8 L600.4,241.1 L602.6,242.5 L604.8,243.9 L606.9,245.5 L608.9,247.1 L611.0,248.7 L613.0,250.4 L615.0,252.2 L617.0,254.0 L619.0,255.8 L621.0,257.7 L622.9,259.6 L624.8,261.5 L626.7,263.4 L628.6,265.3 L630.5,267.2 L632.4,269.2 L634.2,271.1 L636.0,273.0 L637.9,275.0 L639.7,277.0 L641.5,279.0 L643.2,280.9 L645.0,282.9 L646.8,284.9 L648.5,287.0 L650.2,289.0 L652.0,291.0 L653.7,293.0 L655.4,295.1 L657.0,297.1 L658.7,299.2 L660.4,301.3 L662.0,303.4 L663.6,305.4 L665.3,307.5 L666.9,309.6 L668.5,311.7 L670.0,313.9 L671.6,316.0 L673.2,318.1 L674.7,320.2 L676.3,322.4 L677.8,324.5 L679.3,326.7 L680.8,328.8 L682.3,331.0 L683.8,333.2 L685.3,335.4 L686.8,337.6 L688.3,339.8 L689.7,342.0 L691.1,344.2 L692.6,346.4 L694.0,348.6 L695.4,350.8 L696.8,353.0 L698.2,355.3 L699.6,357.5 L701.0,359.8 L702.4,362.0 L703.7,364.3 L705.1,366.5 L706.4,368.8 L707.8,371.1 L709.1,373.4 L710.4,375.6 L711.7,377.9 L713.1,380.2 L714.4,382.5 L715.6,384.8 L716.9,387.1 L718.2,389.4 L719.5,391.7 L720.8,394.0 L722.0,396.4 L723.3,398.7 L724.5,401.0 L725.8,403.3 L727.0,405.7 L728.2,408.0 L729.5,410.3 L730.7,412.7 L731.9,415.0 L733.1,417.4 L734.3,419.7 L735.5,422.1 L736.7,424.5 L737.9,426.8 L739.1,429.2 L740.2,431.6 L741.4,433.9 L742.6,436.3 L743.7,438.7 L744.9,441.0 L746.1,443.4 L747.2,445.8 L748.4,448.2 L749.5,450.6 L750.6,453.0 L751.8,455.3 L752.9,457.7 L754.1,460.1 L755.2,462.5 L756.3,464.9 L757.4,467.3 L758.6,469.7 L759.7,472.1 L760.8,474.5 L761.9,476.9 L763.0,479.3 L764.1,481.7 L765.2,484.1 L766.3,486.5 L767.4,488.9 L768.6,491.3 L769.7,493.7 L770.7,496.1 L771.8,498.5 L772.9,500.9 L774.0,503.3 L775.1,505.8 L776.2,508.2 L777.3,510.6 L778.4,513.0 L779.5,515.4 L780.5,517.8 L781.6,520.2 L782.7,522.6 L783.7,525.1 L784.8,527.5 L785.9,529.9 L786.9,532.3 L788.0,534.7 L789.1,537.1 L790.1,539.6 L791.2,542.0 L792.2,544.4 L793.3,546.8 L794.3,549.3 L795.4,551.7 L796.4,554.1 L797.4,556.5 L798.5,559.0 L799.5,561.4 L800.5,563.8 L801.6,566.3 L802.6,568.7 L803.6,571.1 L804.6,573.6 L805.7,576.0 L806.7,578.4 L807.7,580.9 L808.7,583.3 L809.7,585.8 L810.7,588.2 L811.7,590.6 L812.7,593.1 L813.7,595.5 L814.7,598.0 L815.7,600.4 L816.7,602.9 L817.7,605.3 L818.6,607.8 L819.6,610.2 L820.6,612.7 L821.6,615.1 L822.5,617.6 L823.5,620.0 L824.5,622.5 L825.4,624.9 L826.4,627.4 L827.3,629.9 L828.3,632.3 L829.2,634.8 L830.2,637.3 L831.1,639.7 L832.1,642.2 L833.0,644.7 L833.9,647.1 L834.9,649.6 L835.8,652.1 L836.7,654.5 L837.6,657.0 L838.6,659.5 L839.5,662.0 L840.4,664.4 L841.3,666.9 L842.2,669.4 L843.1,671.9 L844.0,674.4 L844.9,676.9 L845.8,679.3 L846.7,681.8 L847.5,684.3 L848.4,686.8 L849.3,689.3 L850.2,691.8 L851.0,694.3 L851.9,696.8 L852.8,699.3 L853.6,701.8 L854.5,704.3 L855.3,706.8 L856.2,709.3 L857.0,711.8 L857.9,714.3 L858.7,716.8 L859.6,719.3 L860.4,721.8 L861.2,724.3 L862.0,726.9 L862.9,729.4 L863.7,731.9 L864.5,734.4 L865.3,736.9 L866.1,739.4 L866.9,742.0 L867.7,744.5 L868.5,747.0 L869.3,749.5 L870.1,752.1 L870.9,754.6 L871.6,757.1 L872.4,759.7 L873.2,762.2 L874.0,764.7 L874.7,767.3 L875.5,769.8 L876.2,772.4 L877.0,774.9 L877.7,777.4 L878.5,780.0 L879.2,782.5 L880.0,785.1"/>
<path stroke="#ff7f0e" d="M400.2,790.1 L400.7,787.3 L401.2,784.5 L401.7,781.7 L402.2,778.9 L402.7,776.1 L403.2,773.3 L403.7,770.5 L404.2,767.7 L404.7,764.9 L405.2,762.1 L405.7,759.3 L406.2,756.5 L406.7,753.7 L407.2,750.9 L407.7,748.1 L408.2,745.3 L408.7,742.5 L409.2,739.7 L409.7,736.9 L410.2,734.1 L410.6,731.3 L411.1,728.5 L411.6,725.7 L412.1,722.9 L412.6,720.1 L413.1,717.3 L413.6,714.5 L414.1,711.7 L414.6,709.0 L415.1,706.2 L415.6,703.4 L416.1,700.6 L416.6,697.8 L417.0,695.0 L417.5,692.2 L418.0,689.4 L418.5,686.6 L419.0,683.8 L419.5,681.0 L420.0,678.2 L420.5,675.4 L421.0,672.6 L421.5,669.8 L422.0,667.0 L422.5,664.2 L423.0,661.4 L423.5,658.7 L424.0,655.9 L424.5,653.1 L425.0,650.3 L425.6,647.5 L426.1,644.7 L426.6,641.9 L427.1,639.1 L427.6,636.3 L428.1,633.5 L428.6,630.8 L429.2,628.0 L429.7,625.2 L430.2,622.4 L430.7,619.6 L431.3,616.8 L431.8,614.0 L432.3,611.2 L432.8,608.5 L433.4,605.7 L433.9,602.9 L434.5,600.1 L435.0,597.3 L435.5,594.5 L436.1,591.8 L436.6,589.0 L437.2,586.2 L437.8,583.4 L438.3,580.6 L438.9,577.9 L439.4,575.1 L440.0,572.3 L440.6,569.5 L441.1,566.7 L441.7,564.0 L442.3,561.2 L442.9,558.4 L443.5,555.6 L444.0,552.9 L444.6,550.1 L445.2,547.3 L445.8,544.5 L446.4,541.8 L447.0,539.0 L447.6,536.2 L448.2,533.5 L448.9,530.7 L449.5,527.9 L450.1,525.2 L450.7,522.4 L451.4,519.6 L452.0,516.9 L452.6,514.1 L453.3,511.3 L453.9,508.6 L454.6,505.8 L455.2,503.1 L455.9,500.3 L456.5,497.5 L457.2,494.8 L457.9,492.0 L458.6,489.3 L459.2,486.5 L459.9,483.8 L460.6,481.0 L461.3,478.2 L462.0,475.5 L462.7,472.7 L463.4,470.0 L464.1,467.2 L464.8,464.5 L465.6,461.7 L466.3,459.0 L467.0,456.3 L467.8,453.5 L468.5,450.8 L469.3,448.0 L470.1,445.3 L470.9,442.6 L471.7,439.9 L472.5,437.1 L473.3,434.4 L474.1,431.7 L475.0,429.0 L475.8,426.3 L476.7,423.6 L477.6,420.9 L478.5,418.2 L479.4,415.5 L480.3,412.9 L481.3,410.2 L482.3,407.5 L483.2,404.9 L484.2,402.2 L485.3,399.6 L486.3,397.0 L487.4,394.3 L488.5,391.7 L489.6,389.1 L490.7,386.5 L491.9,383.9 L493.1,381.4 L494.3,378.8 L495.5,376.2 L496.7,373.7 L498.0,371.2 L499.3,368.6 L500.7,366.1 L502.0,363.6 L503.4,361.1 L504.8,358.6 L506.3,356.2 L507.7,353.7 L509.2,351.3 L510.8,348.8 L512.4,346.4 L514.0,344.0 L515.6,341.6 L517.3,339.3 L519.0,336.9 L520.7,334.6 L522.5,332.2 L524.3,329.9 L526.1,327.6 L528.0,325.4 L529.9,323.2 L531.9,321.0 L533.9,318.9 L535.9,316.9 L538.0,314.9 L540.1,313.1 L542.2,311.3 L544.4,309.7 L546.6,308.1 L548.9,306.7 L551.2,305.5 L553.6,304.3 L555.9,303.4 L558.4,302.5 L560.8,301.9 L563.4,301.5 L565.9,301.2 L568.5,301.1 L571.1,301.2 L573.8,301.5 L576.5,302.0 L579.2,302.6 L581.9,303.4 L584.7,304.2 L587.4,305.2 L590.1,306.3 L592.8,307.4 L595.5,308.7 L598.2,309.9 L600.8,311.3 L603.4,312.6 L606.0,314.0 L608.5,315.4 L611.0,316.9 L613.5,318.4 L615.9,319.9 L618.3,321.5 L620.7,323.1 L623.0,324.7 L625.4,326.4 L627.7,328.1 L629.9,329.8 L632.1,331.6 L634.4,333.3 L636.5,335.1 L638.7,337.0 L640.8,338.8 L642.9,340.7 L645.0,342.6 L647.1,344.6 L649.1,346.5 L651.1,348.5 L653.1,350.5 L655.1,352.6 L657.0,354.6 L658.9,356.7 L660.9,358.8 L662.7,360.9 L664.6,363.0 L666.5,365.1 L668.3,367.3 L670.1,369.5 L671.9,371.7 L673.7,373.9 L675.5,376.1 L677.2,378.4 L678.9,380.6 L680.7,382.9 L682.4,385.2 L684.1,387.5 L685.8,389.8 L687.4,392.1 L689.1,394.4 L690.7,396.8 L692.4,399.1 L694.0,401.5 L695.6,403.8 L697.2,406.2 L698.8,408.5 L700.4,410.9 L702.0,413.3 L703.6,415.7 L705.2,418.1 L706.8,420.5 L708.3,422.9 L709.9,425.3 L711.4,427.7 L713.0,430.0 L714.5,432.4 L716.1,434.8 L717.6,437.2 L719.2,439.6 L720.7,442.0 L722.3,444.4 L723.8,446.8 L725.3,449.2 L726.8,451.6 L728.4,454.0 L729.9,456.4 L731.4,458.8 L732.9,461.2 L734.4,463.6 L735.9,466.0 L737.4,468.4 L738.9,470.8 L740.4,473.2 L741.9,475.6 L743.4,478.0 L744.9,480.4 L746.3,482.8 L747.8,485.2 L749.3,487.6 L750.7,490.1 L752.2,492.5 L753.6,494.9 L755.1,497.3 L756.5,499.7 L758.0,502.2 L759.4,504.6 L760.8,507.1 L762.2,509.5 L763.7,511.9 L765.1,514.4 L766.5,516.8 L767.9,519.3 L769.3,521.7 L770.7,524.2 L772.0,526.7 L773.4,529.1 L774.8,531.6 L776.2,534.1 L777.5,536.6 L778.9,539.1 L780.2,541.6 L781.6,544.0 L782.9,546.5 L784.2,549.0 L785.6,551.5 L786.9,554.1 L788.2,556.6 L789.5,559.1 L790.8,561.6 L792.1,564.1 L793.4,566.6 L794.7,569.2 L796.0,571.7 L797.3,574.2 L798.6,576.8 L799.8,579.3 L801.1,581.8 L802.4,584.4 L803.6,586.9 L804.9,589.5 L806.2,592.0 L807.4,594.6 L808.6,597.1 L809.9,599.7 L811.1,602.3 L812.3,604.8 L813.6,607.4 L814.8,610.0 L816.0,612.5 L817.2,615.1 L818.4,617.7 L819.6,620.3 L820.8,622.8 L822.0,625.4 L823.2,628.0 L824.4,630.6 L825.6,633.2 L826.8,635.8 L828.0,638.3 L829.1,640.9 L830.3,643.5 L831.5,646.1 L832.6,648.7 L833.8,651.3 L834.9,653.9 L836.1,656.5 L837.3,659.1 L838.4,661.7 L839.5,664.3 L840.7,667.0 L841.8,669.6 L843.0,672.2 L844.1,674.8 L845.2,677.4 L846.3,680.0 L847.5,682.6 L848.6,685.2 L849.7,687.8 L850.8,690.5 L851.9,693.1 L853.0,695.7 L854.1,698.3 L855.2,700.9 L856.3,703.6 L857.4,706.2 L858.5,708.8 L859.6,711.4 L860.7,714.0 L861.8,716.7 L862.9,719.3 L863.9,721.9 L865.0,724.5 L866.1,727.1 L867.2,729.8 L868.2,732.4 L869.3,735.0 L870.4,737.6 L871.4,740.2 L872.5,742.9 L873.6,745.5 L874.6,748.1 L875.7,750.7 L876.7,753.4 L877.8,756.0 L878.9,758.6 L879.9,761.2 L881.0,763.8 L882.0,766.4 L883.0,769.1 L884.1,771.7 L885.1,774.3 L886.2,776.9 L887.2,779.5 L888.3,782.1 L889.3,784.7"/>
<path stroke="#2ca02c" d="M464.4,412.4 L465.0,410.5 L465.7,408.6 L466.3,406.7 L466.9,404.8 L467.6,403.0 L468.2,401.1 L468.8,399.2 L469.4,397.3 L470.0,395.4 L470.7,393.6 L471.3,391.7 L471.9,389.8 L472.5,388.0 L473.1,386.1 L473.7,384.2 L474.3,382.4 L474.9,380.5 L475.5,378.6 L476.1,376.8 L476.7,374.9 L477.3,373.0 L477.9,371.2 L478.5,369.3 L479.1,367.5 L479.7,365.6 L480.3,363.8 L481.0,361.9 L481.6,360.1 L482.2,358.2 L482.8,356.4 L483.5,354.6 L484.1,352.7 L484.8,350.9 L485.4,349.0 L486.1,347.2 L486.8,345.4 L487.5,343.5 L488.2,341.7 L488.9,339.9 L489.6,338.0 L490.3,336.2 L491.0,334.4 L491.7,332.6 L492.5,330.7 L493.2,328.9 L494.0,327.1 L494.8,325.3 L495.6,323.5 L496.4,321.6 L497.2,319.8 L498.1,318.0 L498.9,316.2 L499.8,314.4 L500.7,312.6 L501.5,310.8 L502.5,308.9 L503.4,307.1 L504.3,305.3 L505.3,303.5 L506.3,301.7 L507.3,299.9 L508.3,298.1 L509.3,296.3 L510.4,294.5 L511.4,292.7 L512.5,291.0 L513.6,289.2 L514.8,287.5 L515.9,285.8 L517.1,284.1 L518.3,282.5 L519.6,280.9 L520.8,279.3 L522.1,277.8 L523.5,276.3 L524.8,274.9 L526.2,273.5 L527.6,272.1 L529.1,270.9 L530.5,269.7 L532.0,268.5 L533.6,267.4 L535.2,266.4 L536.8,265.5 L538.4,264.6 L540.1,263.8 L541.9,263.1 L543.6,262.5 L545.4,262.0 L547.2,261.5 L549.0,261.1 L550.8,260.8 L552.7,260.6 L554.5,260.4 L556.4,260.4 L558.3,260.4 L560.1,260.5 L562.0,260.7 L563.9,260.9 L565.7,261.3 L567.6,261.7 L569.4,262.2 L571.2,262.8 L573.0,263.5 L574.8,264.2 L576.5,265.0 L578.3,265.9 L580.0,266.9 L581.7,267.9 L583.4,268.9 L585.0,270.0 L586.7,271.2 L588.3,272.4 L589.9,273.6 L591.5,274.9 L593.1,276.2 L594.6,277.6 L596.1,279.0 L597.6,280.4 L599.1,281.8 L600.6,283.2 L602.0,284.7 L603.5,286.1 L604.8,287.6 L606.2,289.1 L607.6,290.6 L608.9,292.1 L610.2,293.6 L611.6,295.2 L612.8,296.7 L614.1,298.3 L615.4,299.8 L616.6,301.4 L617.8,303.0 L619.0,304.5 L620.2,306.1 L621.4,307.7 L622.6,309.3 L623.7,311.0 L624.8,312.6 L626.0,314.2 L627.1,315.9 L628.2,317.5 L629.3,319.1 L630.4,320.8 L631.5,322.5 L632.5,324.1 L633.6,325.8 L634.6,327.5 L635.7,329.1 L636.7,330.8 L637.8,332.5 L638.8,334.2 L639.8,335.9 L640.8,337.6 L641.9,339.2 L642.9,340.9 L643.9,342.6 L644.9,344.3 L645.9,346.0 L646.9,347.7 L647.9,349.4 L648.9,351.1 L649.9,352.8 L650.8,354.6 L651.8,356.3 L652.8,358.0 L653.8,359.7 L654.7,361.4 L655.7,363.1 L656.7,364.8 L657.6,366.6 L658.6,368.3 L659.5,370.0 L660.5,371.7 L661.4,373.5 L662.3,375.2 L663.3,376.9 L664.2,378.7 L665.1,380.4 L666.1,382.1 L667.0,383.9 L667.9,385.6 L668.8,387.4 L669.7,389.1 L670.6,390.9 L671.5,392.6 L672.4,394.4 L673.3,396.1 L674.2,397.9 L675.1,399.6 L676.0,401.4 L676.9,403.1 L677.7,404.9 L678.6,406.6 L679.5,408.4 L680.4,410.2 L681.2,411.9 L682.1,413.7 L683.0,415.5 L683.8,417.2 L684.7,419.0 L685.5,420.8 L686.4,422.6 L687.2,424.3 L688.0,426.1 L688.9,427.9 L689.7,429.7 L690.6,431.5 L691.4,433.2 L692.2,435.0 L693.0,436.8 L693.9,438.6 L694.7,440.4 L695.5,442.2 L696.3,444.0 L697.1,445.8 L697.9,447.6 L698.7,449.4 L699.5,451.2 L700.3,453.0 L701.1,454.8 L701.9,456.6 L702.7,458.4 L703.5,460.2 L704.3,462.0 L705.0,463.8 L705.8,465.6 L706.6,467.4 L707.4,469.2 L708.1,471.0 L708.9,472.8 L709.7,474.7 L710.4,476.5 L711.2,478.3 L711.9,480.1 L712.7,481.9 L713.4,483.7 L714.2,485.6 L714.9,487.4 L715.7,489.2 L716.4,491.0 L717.2,492.9 L717.9,494.7 L718.6,496.5 L719.4,498.3 L720.1,500.2 L720.8,502.0 L721.6,503.8 L722.3,505.7 L723.0,507.5 L723.7,509.3 L724.4,511.2 L725.1,513.0 L725.9,514.9 L726.6,516.7 L727.3,518.5 L728.0,520.4 L728.7,522.2 L729.4,524.1 L730.1,525.9 L730.8,527.8 L731.5,529.6 L732.2,531.4 L732.9,533.3 L733.5,535.1 L734.2,537.0 L734.9,538.8 L735.6,540.7 L736.3,542.5 L737.0,544.4 L737.6,546.3 L738.3,548.1 L739.0,550.0 L739.7,551.8 L740.3,553.7 L741.0,555.5 L741.7,557.4 L742.3,559.3 L743.0,561.1 L743.6,563.0 L744.3,564.8 L745.0,566.7 L745.6,568.6 L746.3,570.4 L746.9,572.3 L747.6,574.2 L748.2,576.0 L748.9,577.9 L749.5,579.8 L750.2,581.6 L750.8,583.5 L751.4,585.4 L752.1,587.2 L752.7,589.1 L753.3,591.0 L754.0,592.8 L754.6,594.7 L755.2,596.6 L755.9,598.5 L756.5,600.3 L757.1,602.2 L757.8,604.1 L758.4,606.0 L759.0,607.8 L759.6,609.7 L760.3,611.6 L760.9,613.5 L761.5,615.3 L762.1,617.2 L762.7,619.1 L763.3,621.0 L764.0,622.8 L764.6,624.7 L765.2,626.6 L765.8,628.5 L766.4,630.4 L767.0,632.2 L767.6,634.1 L768.2,636.0 L768.8,637.9 L769.4,639.8 L770.0,641.7 L770.6,643.5 L771.2,645.4 L771.8,647.3 L772.4,649.2 L773.0,651.1 L773.6,653.0 L774.2,654.8 L774.8,656.7 L775.4,658.6 L776.0,660.5 L776.6,662.4 L777.2,664.3 L777.8,666.1 L778.4,668.0 L779.0,669.9 L779.5,671.8 L780.1,673.7 L780.7,675.6 L781.3,677.5 L781.9,679.3 L782.5,681.2 L783.1,683.1 L783.6,685.0 L784.2,686.9 L784.8,688.8 L785.4,690.7 L786.0,692.6 L786.6,694.4 L787.1,696.3 L787.7,698.2 L788.3,700.1 L788.9,702.0 L789.5,703.9 L790.0,705.8 L790.6,707.6 L791.2,709.5 L791.8,711.4 L792.3,713.3 L792.9,715.2 L793.5,717.1 L794.1,719.0 L794.6,720.8 L795.2,722.7 L795.8,724.6 L796.4,726.5 L796.9,728.4 L797.5,730.3 L798.1,732.2 L798.7,734.0 L799.2,735.9 L799.8,737.8 L800.4,739.7 L801.0,741.6 L801.5,743.5 L802.1,745.3 L802.7,747.2 L803.3,749.1 L803.8,751.0 L804.4,752.9 L805.0,754.8 L805.6,756.6 L806.1,758.5 L806.7,760.4 L807.3,762.3 L807.9,764.2 L808.4,766.0 L809.0,767.9 L809.6,769.8 L810.2,771.7 L810.7,773.6 L811.3,775.4 L811.9,777.3 L812.5,779.2 L813.0,781.1 L813.6,782.9 L814.2,784.8"/>
<path stroke="#9467bd" d="M513.4,784.9 L513.8,782.7 L514.2,780.4 L514.6,778.1 L515.0,775.9 L515.4,773.6 L515.8,771.3 L516.1,769.1 L516.5,766.8 L516.9,764.5 L517.3,762.3 L517.7,760.0 L518.1,757.7 L518.5,755.4 L518.9,753.2 L519.3,750.9 L519.7,748.6 L520.1,746.4 L520.5,744.1 L520.9,741.8 L521.3,739.5 L521.7,737.3 L522.1,735.0 L522.5,732.7 L522.9,730.5 L523.3,728.2 L523.7,725.9 L524.1,723.6 L524.5,721.4 L524.9,719.1 L525.3,716.8 L525.7,714.5 L526.1,712.3 L526.6,710.0 L527.0,707.7 L527.4,705.4 L527.8,703.2 L528.2,700.9 L528.6,698.6 L529.0,696.3 L529.5,694.1 L529.9,691.8 L530.3,689.5 L530.7,687.2 L531.1,685.0 L531.6,682.7 L532.0,680.4 L532.4,678.1 L532.9,675.9 L533.3,673.6 L533.7,671.3 L534.1,669.0 L534.6,666.8 L535.0,664.5 L535.4,662.2 L535.9,659.9 L536.3,657.7 L536.8,655.4 L537.2,653.1 L537.6,650.8 L538.1,648.6 L538.5,646.3 L539.0,644.0 L539.4,641.8 L539.9,639.5 L540.3,637.2 L540.8,634.9 L541.2,632.7 L541.7,630.4 L542.2,628.1 L542.6,625.9 L543.1,623.6 L543.5,621.3 L544.0,619.0 L544.5,616.8 L544.9,614.5 L545.4,612.2 L545.9,610.0 L546.4,607.7 L546.8,605.4 L547.3,603.2 L547.8,600.9 L548.3,598.6 L548.7,596.4 L549.2,594.1 L549.7,591.8 L550.2,589.6 L550.7,587.3 L551.2,585.1 L551.7,582.8 L552.2,580.5 L552.7,578.3 L553.2,576.0 L553.7,573.8 L554.2,571.5 L554.7,569.2 L555.2,567.0 L555.7,564.7 L556.2,562.5 L556.7,560.2 L557.2,558.0 L557.7,555.7 L558.3,553.5 L558.8,551.2 L559.3,549.0 L559.8,546.7 L560.4,544.5 L560.9,542.2 L561.4,540.0 L561.9,537.7 L562.5,535.5 L563.0,533.2 L563.6,531.0 L564.1,528.7 L564.6,526.5 L565.2,524.2 L565.7,522.0 L566.3,519.8 L566.9,517.5 L567.4,515.3 L568.0,513.0 L568.5,510.8 L569.1,508.6 L569.7,506.3 L570.2,504.1 L570.8,501.9 L571.4,499.6 L571.9,497.4 L572.5,495.2 L573.1,493.0 L573.7,490.7 L574.3,488.5 L574.9,486.3 L575.5,484.1 L576.1,481.8 L576.7,479.6 L577.3,477.4 L577.9,475.2 L578.5,472.9 L579.1,470.7 L579.7,468.5 L580.3,466.3 L580.9,464.1 L581.5,461.9 L582.1,459.7 L582.8,457.5 L583.4,455.2 L584.0,453.0 L584.7,450.8 L585.3,448.6 L585.9,446.4 L586.6,444.2 L587.2,442.0 L587.9,439.8 L588.6,437.6 L589.2,435.4 L589.9,433.3 L590.6,431.1 L591.3,428.9 L592.0,426.7 L592.7,424.5 L593.4,422.3 L594.1,420.1 L594.8,418.0 L595.6,415.8 L596.3,413.6 L597.1,411.5 L597.8,409.3 L598.6,407.1 L599.4,405.0 L600.2,402.8 L601.0,400.6 L601.8,398.5 L602.6,396.3 L603.4,394.2 L604.3,392.0 L605.1,389.9 L606.0,387.8 L606.9,385.6 L607.8,383.5 L608.7,381.3 L609.6,379.2 L610.5,377.1 L611.5,375.0 L612.4,372.9 L613.4,370.7 L614.4,368.6 L615.4,366.5 L616.4,364.4 L617.4,362.3 L618.5,360.2 L619.5,358.1 L620.6,356.0 L621.7,353.9 L622.8,351.9 L623.9,349.8 L625.1,347.7 L626.3,345.6 L627.4,343.6 L628.6,341.5 L629.8,339.4 L631.1,337.4 L632.3,335.3 L633.6,333.3 L634.9,331.3 L636.2,329.2 L637.5,327.2 L638.9,325.3 L640.3,323.3 L641.7,321.4 L643.1,319.5 L644.6,317.6 L646.1,315.7 L647.6,313.9 L649.1,312.2 L650.7,310.4 L652.3,308.7 L653.9,307.1 L655.6,305.5 L657.3,303.9 L659.0,302.4 L660.8,301.0 L662.6,299.6 L664.4,298.3 L666.3,297.1 L668.2,295.9 L670.1,294.8 L672.1,293.7 L674.0,292.7 L676.0,291.8 L678.1,291.0 L680.1,290.2 L682.2,289.5 L684.2,288.9 L686.3,288.4 L688.5,287.9 L690.6,287.5 L692.7,287.3 L694.9,287.1 L697.0,286.9 L699.2,286.9 L701.3,287.0 L703.5,287.1 L705.7,287.3 L707.8,287.6 L710.0,287.9 L712.2,288.4 L714.4,288.9 L716.5,289.4 L718.7,290.0 L720.9,290.7 L723.1,291.4 L725.2,292.2 L727.4,293.1 L729.5,294.0 L731.6,294.9 L733.8,295.9 L735.9,297.0 L738.0,298.0 L740.1,299.2 L742.2,300.3 L744.2,301.5 L746.3,302.7 L748.3,304.0 L750.3,305.3 L752.3,306.6 L754.3,307.9 L756.3,309.3 L758.2,310.7 L760.1,312.1 L762.0,313.5 L763.9,314.9 L765.7,316.4 L767.6,317.9 L769.4,319.3 L771.2,320.8 L773.0,322.4 L774.7,323.9 L776.5,325.4 L778.2,327.0 L779.9,328.6 L781.6,330.1 L783.3,331.7 L784.9,333.3 L786.6,335.0 L788.2,336.6 L789.9,338.2 L791.5,339.9 L793.1,341.5 L794.7,343.2 L796.2,344.9 L797.8,346.6 L799.4,348.3 L800.9,350.0 L802.5,351.7 L804.0,353.4 L805.5,355.2 L807.0,356.9 L808.6,358.6 L810.1,360.4 L811.6,362.1 L813.1,363.9 L814.6,365.6 L816.0,367.4 L817.5,369.1 L819.0,370.9 L820.5,372.7 L822.0,374.4 L823.5,376.2 L824.9,378.0 L826.4,379.8 L827.9,381.5 L829.3,383.3 L830.8,385.1 L832.3,386.9 L833.7,388.7 L835.2,390.5 L836.6,392.2 L838.1,394.0 L839.5,395.8 L841.0,397.6 L842.4,399.4 L843.9,401.2 L845.3,403.0 L846.7,404.9 L848.1,406.7 L849.6,408.5 L851.0,410.3 L852.4,412.1 L853.8,413.9 L855.2,415.8 L856.7,417.6 L858.1,419.4 L859.5,421.2 L860.9,423.1 L862.3,424.9 L863.7,426.7 L865.0,428.6 L866.4,430.4 L867.8,432.3 L869.2,434.1 L870.5,436.0 L871.9,437.8 L873.3,439.7 L874.6,441.6 L876.0,443.4 L877.3,445.3 L878.7,447.2 L880.0,449.1 L881.4,450.9 L882.7,452.8 L884.0,454.7 L885.4,456.6 L886.7,458.5 L888.0,460.4 L889.3,462.3 L890.6,464.2 L891.9,466.1 L893.2,468.0 L894.5,469.9 L895.8,471.8 L897.1,473.7 L898.3,475.7 L899.6,477.6 L900.9,479.5 L902.1,481.5 L903.4,483.4 L904.6,485.3 L905.9,487.3 L907.1,489.2 L908.3,491.2 L909.6,493.1 L910.8,495.1 L912.0,497.1 L913.2,499.0 L914.4,501.0 L915.6,503.0 L916.8,505.0 L918.0,506.9 L919.2,508.9 L920.4,510.9 L921.5,512.9 L922.7,514.9 L923.8,516.9 L925.0,518.9 L926.1,520.9 L927.3,523.0 L928.4,525.0 L929.5,527.0 L930.6,529.0 L931.7,531.1 L932.8,533.1 L933.9,535.1 L935.0,537.2 L936.1,539.2 L937.2,541.3 L938.3,543.4 L939.3,545.4 L940.4,547.5 L941.4,549.6"/>
<path stroke="#9467bd" d="M648.1,756.8 L648.5,755.1 L648.9,753.5 L649.3,751.9 L649.7,750.2 L650.2,748.6 L650.6,746.9 L651.0,745.3 L651.4,743.7 L651.8,742.0 L652.2,740.4 L652.7,738.7 L653.1,737.1 L653.5,735.5 L653.9,733.8 L654.4,732.2 L654.8,730.6 L655.2,728.9 L655.7,727.3 L656.1,725.6 L656.5,724.0 L656.9,722.4 L657.4,720.7 L657.8,719.1 L658.3,717.4 L658.7,715.8 L659.1,714.2 L659.6,712.5 L660.0,710.9 L660.5,709.3 L660.9,707.6 L661.3,706.0 L661.8,704.3 L662.2,702.7 L662.7,701.1 L663.1,699.4 L663.6,697.8 L664.0,696.2 L664.5,694.5 L664.9,692.9 L665.4,691.2 L665.9,689.6 L666.3,688.0 L666.8,686.3 L667.2,684.7 L667.7,683.1 L668.2,681.4 L668.6,679.8 L669.1,678.2 L669.6,676.5 L670.0,674.9 L670.5,673.3 L671.0,671.6 L671.4,670.0 L671.9,668.4 L672.4,666.7 L672.9,665.1 L673.3,663.5 L673.8,661.8 L674.3,660.2 L674.8,658.6 L675.3,656.9 L675.8,655.3 L676.2,653.7 L676.7,652.0 L677.2,650.4 L677.7,648.8 L678.2,647.2 L678.7,645.5 L679.2,643.9 L679.7,642.3 L680.2,640.6 L680.7,639.0 L681.2,637.4 L681.7,635.8 L682.2,634.1 L682.7,632.5 L683.2,630.9 L683.7,629.3 L684.2,627.6 L684.7,626.0 L685.2,624.4 L685.7,622.8 L686.3,621.1 L686.8,619.5 L687.3,617.9 L687.8,616.3 L688.3,614.7 L688.9,613.0 L689.4,611.4 L689.9,609.8 L690.4,608.2 L691.0,606.6 L691.5,605.0 L692.0,603.3 L692.6,601.7 L693.1,600.1 L693.6,598.5 L694.2,596.9 L694.7,595.3 L695.2,593.7 L695.8,592.0 L696.3,590.4 L696.9,588.8 L697.4,587.2 L698.0,585.6 L698.5,584.0 L699.1,582.4 L699.6,580.8 L700.2,579.2 L700.7,577.6 L701.3,576.0 L701.9,574.4 L702.4,572.8 L703.0,571.2 L703.5,569.6 L704.1,568.0 L704.7,566.4 L705.2,564.8 L705.8,563.2 L706.4,561.6 L707.0,560.0 L707.5,558.4 L708.1,556.8 L708.7,555.2 L709.3,553.6 L709.9,552.0 L710.5,550.4 L711.0,548.8 L711.6,547.2 L712.2,545.6 L712.8,544.0 L713.4,542.4 L714.0,540.9 L714.6,539.3 L715.2,537.7 L715.8,536.1 L716.4,534.5 L717.0,532.9 L717.6,531.4 L718.2,529.8 L718.8,528.2 L719.4,526.6 L720.0,525.0 L720.7,523.5 L721.3,521.9 L721.9,520.3 L722.5,518.7 L723.1,517.2 L723.8,515.6 L724.4,514.0 L725.0,512.4 L725.6,510.9 L726.3,509.3 L726.9,507.7 L727.5,506.2 L728.2,504.6 L728.8,503.0 L729.5,501.5 L730.1,499.9 L730.8,498.4 L731.4,496.8 L732.1,495.2 L732.7,493.7 L733.4,492.1 L734.0,490.6 L734.7,489.0 L735.4,487.5 L736.0,485.9 L736.7,484.4 L737.4,482.8 L738.1,481.3 L738.8,479.8 L739.5,478.2 L740.2,476.7 L740.9,475.1 L741.6,473.6 L742.3,472.1 L743.0,470.6 L743.7,469.0 L744.5,467.5 L745.2,466.0 L745.9,464.5 L746.7,462.9 L747.4,461.4 L748.2,459.9 L748.9,458.4 L749.7,456.9 L750.5,455.4 L751.3,453.9 L752.0,452.4 L752.8,450.9 L753.6,449.4 L754.4,447.9 L755.2,446.4 L756.1,444.9 L756.9,443.5 L757.7,442.0 L758.6,440.5 L759.4,439.0 L760.3,437.6 L761.1,436.1 L762.0,434.6 L762.9,433.2 L763.8,431.7 L764.7,430.3 L765.6,428.8 L766.5,427.4 L767.4,425.9 L768.3,424.5 L769.3,423.1 L770.2,421.6 L771.2,420.2 L772.1,418.8 L773.1,417.3 L774.1,415.9 L775.1,414.5 L776.1,413.1 L777.1,411.7 L778.1,410.3 L779.2,408.9 L780.2,407.5 L781.3,406.1 L782.3,404.7 L783.4,403.4 L784.5,402.0 L785.6,400.6 L786.7,399.3 L787.8,397.9 L789.0,396.6 L790.1,395.3 L791.2,394.0 L792.4,392.7 L793.6,391.4 L794.8,390.1 L796.0,388.8 L797.2,387.6 L798.4,386.4 L799.6,385.1 L800.8,383.9 L802.1,382.7 L803.4,381.6 L804.6,380.4 L805.9,379.3 L807.2,378.2 L808.5,377.1 L809.9,376.0 L811.2,375.0 L812.5,374.0 L813.9,373.0 L815.3,372.0 L816.7,371.0 L818.1,370.1 L819.5,369.2 L820.9,368.3 L822.3,367.5 L823.8,366.7 L825.2,365.9 L826.7,365.1 L828.2,364.4 L829.7,363.7 L831.2,363.0 L832.7,362.4 L834.2,361.7 L835.8,361.1 L837.3,360.6 L838.9,360.0 L840.4,359.5 L842.0,359.1 L843.6,358.6 L845.2,358.2 L846.8,357.8 L848.4,357.5 L850.0,357.1 L851.6,356.8 L853.2,356.6 L854.8,356.3 L856.4,356.1 L858.1,356.0 L859.7,355.8 L861.3,355.7 L863.0,355.6 L864.6,355.6 L866.3,355.6 L867.9,355.6 L869.6,355.6 L871.2,355.7 L872.8,355.8 L874.5,356.0 L876.1,356.1 L877.8,356.3 L879.4,356.6 L881.1,356.9 L882.7,357.2 L884.3,357.5 L886.0,357.8 L887.6,358.2 L889.2,358.6 L890.9,359.1 L892.5,359.6 L894.1,360.1 L895.7,360.6 L897.3,361.1 L898.9,361.7 L900.5,362.3 L902.1,362.9 L903.7,363.6 L905.3,364.2 L906.9,364.9 L908.5,365.6 L910.0,366.4 L911.6,367.1 L913.1,367.9 L914.7,368.7 L916.2,369.5 L917.7,370.3 L919.2,371.2 L920.7,372.0 L922.2,372.9 L923.7,373.8 L925.2,374.7 L926.7,375.6 L928.1,376.6 L929.6,377.5 L931.0,378.5 L932.4,379.4 L933.8,380.4 L935.2,381.4 L936.6,382.5 L938.0,383.5 L939.4,384.5 L940.8,385.6 L942.1,386.6 L943.4,387.7 L944.8,388.8 L946.1,389.9 L947.4,391.0 L948.7,392.1 L950.0,393.2 L951.3,394.4 L952.6,395.5 L953.9,396.7 L955.1,397.8 L956.4,399.0 L957.6,400.2 L958.9,401.4 L960.1,402.6 L961.3,403.8 L962.5,405.0 L963.8,406.2 L965.0,407.4 L966.2,408.7 L967.3,409.9 L968.5,411.2 L969.7,412.4 L970.9,413.7 L972.0,414.9 L973.2,416.2 L974.3,417.5 L975.5,418.8 L976.6,420.0 L977.7,421.3 L978.8,422.6 L980.0,423.9 L981.1,425.2 L982.2,426.5 L983.3,427.8 L984.4,429.1 L985.5,430.5 L986.6,431.8 L987.6,433.1 L988.7,434.4 L989.8,435.7 L990.8,437.1 L991.9,438.4 L993.0,439.7 L994.0,441.0 L995.1,442.4 L996.1,443.7 L997.2,445.0 L998.2,446.3 L999.2,447.7 L1000.3,449.0 L1001.3,450.3 L1002.3,451.6 L1003.3,453.0 L1004.4,454.3 L1005.4,455.6 L1006.4,456.9 L1007.4,458.2 L1008.4,459.6 L1009.4,460.9 L1010.4,462.2 L1011.4,463.5 L1012.4,464.8 L1013.4,466.1 L1014.4,467.4 L1015.4,468.6 L1016.4,469.9 L1017.4,471.2"/>
<path stroke="#1f77b4" d="M688.6,721.7 L689.0,719.6 L689.4,717.4 L689.8,715.3 L690.2,713.1 L690.7,710.9 L691.1,708.8 L691.5,706.6 L692.0,704.5 L692.5,702.3 L692.9,700.2 L693.4,698.0 L693.9,695.9 L694.3,693.7 L694.8,691.6 L695.3,689.4 L695.8,687.3 L696.3,685.1 L696.8,683.0 L697.3,680.8 L697.9,678.7 L698.4,676.6 L698.9,674.4 L699.4,672.3 L700.0,670.2 L700.5,668.0 L701.1,665.9 L701.6,663.8 L702.2,661.6 L702.7,659.5 L703.3,657.4 L703.9,655.3 L704.5,653.1 L705.0,651.0 L705.6,648.9 L706.2,646.8 L706.8,644.7 L707.4,642.5 L708.0,640.4 L708.6,638.3 L709.2,636.2 L709.8,634.1 L710.4,632.0 L711.0,629.8 L711.6,627.7 L712.2,625.6 L712.8,623.5 L713.5,621.4 L714.1,619.3 L714.7,617.2 L715.3,615.1 L716.0,613.0 L716.6,610.8 L717.2,608.7 L717.9,606.6 L718.5,604.5 L719.1,602.4 L719.8,600.3 L720.4,598.2 L721.1,596.1 L721.7,594.0 L722.4,591.9 L723.0,589.8 L723.7,587.7 L724.3,585.6 L725.0,583.5 L725.6,581.4 L726.3,579.3 L726.9,577.2 L727.6,575.1 L728.2,573.0 L728.9,570.9 L729.5,568.8 L730.2,566.7 L730.8,564.6 L731.5,562.5 L732.1,560.4 L732.8,558.3 L733.5,556.2 L734.1,554.1 L734.8,552.0 L735.5,549.9 L736.1,547.8 L736.8,545.7 L737.5,543.7 L738.2,541.6 L738.9,539.5 L739.6,537.4 L740.3,535.3 L741.0,533.3 L741.7,531.2 L742.5,529.1 L743.2,527.1 L743.9,525.0 L744.7,522.9 L745.4,520.9 L746.2,518.8 L747.0,516.8 L747.8,514.7 L748.5,512.7 L749.3,510.6 L750.2,508.6 L751.0,506.6 L751.8,504.5 L752.6,502.5 L753.5,500.5 L754.3,498.5 L755.2,496.4 L756.1,494.4 L757.0,492.4 L757.9,490.4 L758.8,488.4 L759.8,486.5 L760.7,484.5 L761.7,482.5 L762.7,480.5 L763.6,478.6 L764.6,476.6 L765.7,474.6 L766.7,472.7 L767.8,470.7 L768.8,468.8 L769.9,466.9 L771.0,464.9 L772.1,463.0 L773.2,461.1 L774.4,459.2 L775.6,457.3 L776.7,455.4 L777.9,453.5 L779.2,451.6 L780.4,449.8 L781.7,447.9 L782.9,446.0 L784.2,444.2 L785.6,442.4 L786.9,440.6 L788.3,438.8 L789.6,437.0 L791.1,435.2 L792.5,433.5 L793.9,431.8 L795.4,430.1 L796.9,428.5 L798.4,426.8 L799.9,425.2 L801.5,423.7 L803.1,422.2 L804.7,420.7 L806.4,419.2 L808.0,417.8 L809.7,416.4 L811.4,415.1 L813.2,413.8 L814.9,412.6 L816.7,411.4 L818.6,410.3 L820.4,409.2 L822.3,408.2 L824.2,407.3 L826.1,406.3 L828.1,405.5 L830.1,404.7 L832.1,404.0 L834.2,403.4 L836.3,402.8 L838.4,402.3 L840.5,401.8 L842.7,401.4 L844.9,401.1 L847.1,400.9 L849.3,400.7 L851.5,400.6 L853.7,400.5 L855.9,400.5 L858.2,400.6 L860.4,400.8 L862.6,401.0 L864.8,401.3 L866.9,401.6 L869.1,402.0 L871.2,402.5 L873.3,403.0 L875.4,403.6 L877.5,404.3 L879.5,405.0 L881.5,405.7 L883.5,406.5 L885.5,407.4 L887.5,408.3 L889.4,409.3 L891.3,410.3 L893.2,411.3 L895.1,412.4 L896.9,413.5 L898.7,414.7 L900.6,415.9 L902.4,417.2 L904.1,418.4 L905.9,419.7 L907.7,421.0 L909.4,422.4 L911.1,423.8 L912.9,425.2 L914.6,426.6 L916.3,428.0 L917.9,429.5 L919.6,431.0 L921.3,432.4 L922.9,433.9 L924.6,435.4 L926.2,437.0 L927.8,438.5 L929.4,440.0 L931.0,441.5 L932.7,443.1 L934.2,444.6 L935.8,446.1 L937.4,447.7 L939.0,449.2 L940.6,450.8 L942.1,452.4 L943.7,454.0 L945.2,455.5 L946.8,457.1 L948.3,458.7 L949.8,460.3 L951.3,461.9 L952.8,463.5 L954.3,465.1 L955.8,466.7 L957.3,468.4 L958.8,470.0 L960.3,471.6 L961.8,473.3 L963.2,474.9 L964.7,476.6 L966.1,478.2 L967.6,479.9 L969.0,481.5 L970.4,483.2 L971.9,484.9 L973.3,486.6 L974.7,488.2 L976.1,489.9 L977.5,491.6 L978.9,493.3 L980.3,495.0 L981.6,496.7 L983.0,498.4 L984.4,500.1 L985.7,501.9 L987.1,503.6 L988.4,505.3 L989.8,507.1 L991.1,508.8 L992.5,510.5 L993.8,512.3 L995.1,514.0 L996.4,515.8 L997.7,517.5 L999.0,519.3 L1000.3,521.1 L1001.6,522.8 L1002.9,524.6 L1004.2,526.4 L1005.5,528.2 L1006.7,530.0 L1008.0,531.7 L1009.3,533.5 L1010.5,535.3 L1011.8,537.1 L1013.0,538.9 L1014.3,540.8 L1015.5,542.6 L1016.7,544.4 L1018.0,546.2 L1019.2,548.0 L1020.4,549.8 L1021.6,551.7 L1022.8,553.5 L1024.0,555.3 L1025.2,557.2 L1026.4,559.0 L1027.6,560.9 L1028.8,562.7 L1030.0,564.6 L1031.1,566.4 L1032.3,568.3 L1033.5,570.1 L1034.6,572.0 L1035.8,573.9 L1036.9,575.7 L1038.1,577.6 L1039.2,579.5 L1040.4,581.4 L1041.5,583.3 L1042.6,585.1 L1043.8,587.0 L1044.9,588.9 L1046.0,590.8 L1047.1,592.7 L1048.3,594.6 L1049.4,596.5 L1050.5,598.4 L1051.6,600.3 L1052.7,602.2 L1053.8,604.1 L1054.9,606.0 L1056.0,607.9 L1057.0,609.9 L1058.1,611.8 L1059.2,613.7 L1060.3,615.6 L1061.3,617.5 L1062.4,619.5 L1063.5,621.4 L1064.5,623.3 L1065.6,625.3 L1066.7,627.2 L1067.7,629.1 L1068.8,631.1 L1069.8,633.0 L1070.9,634.9 L1071.9,636.9 L1072.9,638.8 L1074.0,640.8 L1075.0,642.7 L1076.0,644.7 L1077.1,646.6 L1078.1,648.6 L1079.1,650.5 L1080.1,652.5 L1081.2,654.4 L1082.2,656.4 L1083.2,658.4 L1084.2,660.3 L1085.2,662.3 L1086.2,664.2 L1087.2,666.2 L1088.2,668.2 L1089.2,670.1 L1090.2,672.1 L1091.2,674.1 L1092.2,676.0 L1093.2,678.0 L1094.2,680.0 L1095.2,681.9 L1096.2,683.9 L1097.2,685.9 L1098.2,687.8 L1099.1,689.8 L1100.1,691.8 L1101.1,693.8 L1102.1,695.7 L1103.0,697.7 L1104.0,699.7 L1105.0,701.7 L1106.0,703.6 L1106.9,705.6 L1107.9,707.6 L1108.9,709.6 L1109.8,711.6 L1110.8,713.5 L1111.8,715.5 L1112.7,717.5 L1113.7,719.5 L1114.7,721.4 L1115.6,723.4 L1116.6,725.4 L1117.6,727.4 L1118.5,729.3 L1119.5,731.3 L1120.4,733.3 L1121.4,735.3 L1122.3,737.3 L1123.3,739.2 L1124.3,741.2 L1125.2,743.2 L1126.2,745.2 L1127.1,747.1 L1128.1,749.1 L1129.0,751.1 L1130.0,753.0 L1130.9,755.0 L1131.9,757.0 L1132.8,759.0 L1133.8,760.9 L1134.7,762.9 L1135.7,764.9 L1136.6,766.8 L1137.6,768.8 L1138.6,770.8 L1139.5,772.7 L1140.5,774.7 L1141.4,776.7 L1142.4,778.6 L1143.3,780.6 L1144.3,782.5 L1145.2,784.5"/>
<path stroke="#ff7f0e" d="M861.8,417.8 L862.9,418.0 L864.1,418.1 L865.2,418.2 L866.4,418.4 L867.5,418.5 L868.6,418.7 L869.7,418.9 L870.9,419.0 L872.0,419.2 L873.1,419.4 L874.2,419.6 L875.3,419.8 L876.4,420.1 L877.5,420.3 L878.6,420.5 L879.7,420.8 L880.8,421.0 L881.9,421.3 L882.9,421.5 L884.0,421.8 L885.1,422.1 L886.1,422.4 L887.2,422.6 L888.3,422.9 L889.3,423.2 L890.4,423.6 L891.4,423.9 L892.5,424.2 L893.5,424.5 L894.5,424.9 L895.6,425.2 L896.6,425.6 L897.6,425.9 L898.6,426.3 L899.7,426.7 L900.7,427.1 L901.7,427.4 L902.7,427.8 L903.7,428.2 L904.7,428.6 L905.7,429.0 L906.7,429.5 L907.7,429.9 L908.7,430.3 L909.6,430.8 L910.6,431.2 L911.6,431.6 L912.6,432.1 L913.5,432.6 L914.5,433.0 L915.5,433.5 L916.4,434.0 L917.4,434.5 L918.3,435.0 L919.3,435.4 L920.2,436.0 L921.2,436.5 L922.1,437.0 L923.1,437.5 L924.0,438.0 L924.9,438.5 L925.8,439.1 L926.8,439.6 L927.7,440.2 L928.6,440.7 L929.5,441.3 L930.4,441.8 L931.3,442.4 L932.2,443.0 L933.1,443.5 L934.0,444.1 L934.9,444.7 L935.8,445.3 L936.7,445.9 L937.6,446.5 L938.5,447.1 L939.4,447.7 L940.3,448.3 L941.1,448.9 L942.0,449.6 L942.9,450.2 L943.8,450.8 L944.6,451.5 L945.5,452.1 L946.3,452.8 L947.2,453.4 L948.1,454.1 L948.9,454.7 L949.8,455.4 L950.6,456.1 L951.4,456.7 L952.3,457.4 L953.1,458.1 L954.0,458.8 L954.8,459.5 L955.6,460.1 L956.5,460.8 L957.3,461.5 L958.1,462.2 L958.9,462.9 L959.7,463.7 L960.6,464.4 L961.4,465.1 L962.2,465.8 L963.0,466.5 L963.8,467.3 L964.6,468.0 L965.4,468.7 L966.2,469.5 L967.0,470.2 L967.8,471.0 L968.6,471.7 L969.4,472.5 L970.2,473.2 L971.0,474.0 L971.7,474.7 L972.5,475.5 L973.3,476.3 L974.1,477.0 L974.9,477.8 L975.6,478.6 L976.4,479.3 L977.2,480.1 L977.9,480.9 L978.7,481.7 L979.5,482.5 L980.2,483.3 L981.0,484.1 L981.8,484.9 L982.5,485.7 L983.3,486.5 L984.0,487.3 L984.8,488.1 L985.5,488.9 L986.3,489.7 L987.0,490.5 L987.8,491.3 L988.5,492.1 L989.2,492.9 L990.0,493.7 L990.7,494.6 L991.4,495.4 L992.2,496.2 L992.9,497.0 L993.6,497.9 L994.4,498.7 L995.1,499.5 L995.8,500.4 L996.5,501.2 L997.3,502.0 L998.0,502.9 L998.7,503.7 L999.4,504.5 L1000.1,505.4 L1000.8,506.2 L1001.6,507.1 L1002.3,507.9 L1003.0,508.8 L1003.7,509.6 L1004.4,510.5 L1005.1,511.3 L1005.8,512.2 L1006.5,513.0 L1007.2,513.9 L1007.9,514.7 L1008.6,515.6 L1009.3,516.4 L1010.0,517.3 L1010.7,518.1 L1011.4,519.0 L1012.1,519.8 L1012.8,520.7 L1013.5,521.5 L1014.1,522.4 L1014.8,523.3 L1015.5,524.1 L1016.2,525.0 L1016.9,525.8 L1017.6,526.7 L1018.3,527.6 L1018.9,528.4 L1019.6,529.3 L1020.3,530.2 L1021.0,531.0 L1021.6,531.9 L1022.3,532.8 L1023.0,533.6 L1023.7,534.5 L1024.3,535.4 L1025.0,536.2 L1025.7,537.1 L1026.3,538.0 L1027.0,538.8 L1027.7,539.7 L1028.3,540.6 L1029.0,541.5 L1029.6,542.3 L1030.3,543.2 L1031.0,544.1 L1031.6,545.0 L1032.3,545.8 L1032.9,546.7 L1033.6,547.6 L1034.2,548.5 L1034.9,549.4 L1035.5,550.2 L1036.2,551.1 L1036.8,552.0 L1037.5,552.9 L1038.1,553.8 L1038.8,554.6 L1039.4,555.5 L1040.1,556.4 L1040.7,557.3 L1041.3,558.2 L1042.0,559.1 L1042.6,560.0 L1043.3,560.8 L1043.9,561.7 L1044.5,562.6 L1045.2,563.5 L1045.8,564.4 L1046.4,565.3 L1047.0,566.2 L1047.7,567.1 L1048.3,568.0 L1048.9,568.9 L1049.5,569.8 L1050.2,570.7 L1050.8,571.5 L1051.4,572.4 L1052.0,573.3 L1052.7,574.2 L1053.3,575.1 L1053.9,576.0 L1054.5,576.9 L1055.1,577.8 L1055.7,578.7 L1056.3,579.6 L1056.9,580.5 L1057.6,581.4 L1058.2,582.3 L1058.8,583.3 L1059.4,584.2 L1060.0,585.1 L1060.6,586.0 L1061.2,586.9 L1061.8,587.8 L1062.4,588.7 L1063.0,589.6 L1063.6,590.5 L1064.2,591.4 L1064.8,592.3 L1065.4,593.2 L1066.0,594.2 L1066.6,595.1 L1067.2,596.0 L1067.7,596.9 L1068.3,597.8 L1068.9,598.7 L1069.5,599.6 L1070.1,600.6 L1070.7,601.5 L1071.3,602.4 L1071.8,603.3 L1072.4,604.2 L1073.0,605.1 L1073.6,606.1 L1074.2,607.0 L1074.7,607.9 L1075.3,608.8 L1075.9,609.8 L1076.5,610.7 L1077.0,611.6 L1077.6,612.5 L1078.2,613.5 L1078.8,614.4 L1079.3,615.3 L1079.9,616.2 L1080.5,617.2 L1081.0,618.1 L1081.6,619.0 L1082.1,619.9 L1082.7,620.9 L1083.3,621.8 L1083.8,622.7 L1084.4,623.7 L1084.9,624.6 L1085.5,625.5 L1086.1,626.5 L1086.6,627.4 L1087.2,628.3 L1087.7,629.3 L1088.3,630.2 L1088.8,631.2 L1089.4,632.1 L1089.9,633.0 L1090.5,634.0 L1091.0,634.9 L1091.6,635.9 L1092.1,636.8 L1092.6,637.7 L1093.2,638.7 L1093.7,639.6 L1094.3,640.6 L1094.8,641.5 L1095.3,642.5 L1095.9,643.4 L1096.4,644.3 L1096.9,645.3 L1097.5,646.2 L1098.0,647.2 L1098.5,648.1 L1099.1,649.1 L1099.6,650.0 L1100.1,651.0 L1100.7,651.9 L1101.2,652.9 L1101.7,653.8 L1102.2,654.8 L1102.8,655.7 L1103.3,656.7 L1103.8,657.7 L1104.3,658.6 L1104.8,659.6 L1105.4,660.5 L1105.9,661.5 L1106.4,662.4 L1106.9,663.4 L1107.4,664.4 L1107.9,665.3 L1108.4,666.3 L1109.0,667.2 L1109.5,668.2 L1110.0,669.2 L1110.5,670.1 L1111.0,671.1 L1111.5,672.1 L1112.0,673.0 L1112.5,674.0 L1113.0,675.0 L1113.5,675.9 L1114.0,676.9 L1114.5,677.9 L1115.0,678.8 L1115.5,679.8 L1116.0,680.8 L1116.5,681.7 L1117.0,682.7 L1117.5,683.7 L1118.0,684.6 L1118.5,685.6 L1119.0,686.6 L1119.5,687.6 L1119.9,688.5 L1120.4,689.5 L1120.9,690.5 L1121.4,691.5 L1121.9,692.4 L1122.4,693.4 L1122.9,694.4 L1123.3,695.4 L1123.8,696.4 L1124.3,697.3 L1124.8,698.3 L1125.3,699.3 L1125.7,700.3 L1126.2,701.3 L1126.7,702.2 L1127.2,703.2 L1127.6,704.2 L1128.1,705.2 L1128.6,706.2 L1129.1,707.2 L1129.5,708.2 L1130.0,709.1 L1130.5,710.1 L1130.9,711.1 L1131.4,712.1 L1131.9,713.1 L1132.3,714.1 L1132.8,715.1 L1133.3,716.1 L1133.7,717.1 L1134.2,718.1 L1134.6,719.0 L1135.1,720.0 L1135.6,721.0 L1136.0,722.0 L1136.5,723.0 L1136.9,724.0 L1137.4,725.0 L1137.8,726.0 L1138.3,727.0 L1138.7,728.0 L1139.2,729.0 L1139.6,730.0 L1140.1,731.0 L1140.5,732.0"/>
</g>
<g stroke="#000" fill="#000">
<line x1="489.2" y1="320.0" x2="489.2" y2="367.2" stroke-width="3.7"/>
<line x1="480.4" y1="320.0" x2="498.0" y2="320.0" stroke-width="2.8"/>
<line x1="480.4" y1="367.2" x2="498.0" y2="367.2" stroke-width="2.8"/>
<circle cx="489.2" cy="342.2" r="7.5" stroke="none"/>
<line x1="549.9" y1="191.1" x2="549.9" y2="222.2" stroke-width="3.7"/>
<line x1="541.1" y1="191.1" x2="558.7" y2="191.1" stroke-width="2.8"/>
<line x1="541.1" y1="222.2" x2="558.7" y2="222.2" stroke-width="2.8"/>
<circle cx="549.9" cy="205.9" r="7.5" stroke="none"/>
<line x1="609.7" y1="164.7" x2="609.7" y2="200.2" stroke-width="3.7"/>
<line x1="600.9" y1="164.7" x2="618.5" y2="164.7" stroke-width="2.8"/>
<line x1="600.9" y1="200.2" x2="618.5" y2="200.2" stroke-width="2.8"/>
<circle cx="609.7" cy="182.6" r="7.5" stroke="none"/>
</g>
</g>
<rect x="122.9" y="18.7" width="1080.9" height="760.1" fill="none" stroke="#000" stroke-width="2" stroke-linejoin="miter"/>
<g stroke="#000" stroke-linecap="round">
<line x1="125.9" y1="778.8" x2="125.9" y2="785.8" stroke-width="2"/>
<line x1="150.9" y1="778.8" x2="150.9" y2="785.8" stroke-width="2"/>
<line x1="175.8" y1="778.8" x2="175.8" y2="785.8" stroke-width="2"/>
<line x1="200.8" y1="778.8" x2="200.8" y2="785.8" stroke-width="2"/>
<line x1="225.8" y1="778.8" x2="225.8" y2="788.8" stroke-width="2.6"/>
<line x1="250.6" y1="778.8" x2="250.6" y2="785.8" stroke-width="2"/>
<line x1="275.3" y1="778.8" x2="275.3" y2="785.8" stroke-width="2"/>
<line x1="300.1" y1="778.8" x2="300.1" y2="785.8" stroke-width="2"/>
<line x1="324.8" y1="778.8" x2="324.8" y2="785.8" stroke-width="2"/>
<line x1="349.6" y1="778.8" x2="349.6" y2="788.8" stroke-width="2.6"/>
<line x1="374.6" y1="778.8" x2="374.6" y2="785.8" stroke-width="2"/>
<line x1="399.7" y1="778.8" x2="399.7" y2="785.8" stroke-width="2"/>
<line x1="424.7" y1="778.8" x2="424.7" y2="785.8" stroke-width="2"/>
<line x1="449.8" y1="778.8" x2="449.8" y2="785.8" stroke-width="2"/>
<line x1="474.8" y1="778.8" x2="474.8" y2="788.8" stroke-width="2.6"/>
<line x1="499.8" y1="778.8" x2="499.8" y2="785.8" stroke-width="2"/>
<line x1="524.9" y1="778.8" x2="524.9" y2="785.8" stroke-width="2"/>
<line x1="549.9" y1="778.8" x2="549.9" y2="785.8" stroke-width="2"/>
<line x1="575.0" y1="778.8" x2="575.0" y2="785.8" stroke-width="2"/>
<line x1="600.0" y1="778.8" x2="600.0" y2="788.8" stroke-width="2.6"/>
<line x1="625.0" y1="778.8" x2="625.0" y2="785.8" stroke-width="2"/>
<line x1="650.1" y1="778.8" x2="650.1" y2="785.8" stroke-width="2"/>
<line x1="675.1" y1="778.8" x2="675.1" y2="785.8" stroke-width="2"/>
<line x1="700.2" y1="778.8" x2="700.2" y2="785.8" stroke-width="2"/>
<line x1="725.2" y1="778.8" x2="725.2" y2="788.8" stroke-width="2.6"/>
<line x1="750.2" y1="778.8" x2="750.2" y2="785.8" stroke-width="2"/>
<line x1="775.3" y1="778.8" x2="775.3" y2="785.8" stroke-width="2"/>
<line x1="800.3" y1="778.8" x2="800.3" y2="785.8" stroke-width="2"/>
<line x1="825.4" y1="778.8" x2="825.4" y2="785.8" stroke-width="2"/>
<line x1="850.4" y1="778.8" x2="850.4" y2="788.8" stroke-width="2.6"/>
<line x1="875.5" y1="778.8" x2="875.5" y2="785.8" stroke-width="2"/>
<line x1="900.5" y1="778.8" x2="900.5" y2="785.8" stroke-width="2"/>
<line x1="925.6" y1="778.8" x2="925.6" y2="785.8" stroke-width="2"/>
<line x1="950.6" y1="778.8" x2="950.6" y2="785.8" stroke-width="2"/>
<line x1="975.7" y1="778.8" x2="975.7" y2="788.8" stroke-width="2.6"/>
<line x1="1000.7" y1="778.8" x2="1000.7" y2="785.8" stroke-width="2"/>
<line x1="1025.8" y1="778.8" x2="1025.8" y2="785.8" stroke-width="2"/>
<line x1="1050.8" y1="778.8" x2="1050.8" y2="785.8" stroke-width="2"/>
<line x1="1075.9" y1="778.8" x2="1075.9" y2="785.8" stroke-width="2"/>
<line x1="1100.9" y1="778.8" x2="1100.9" y2="788.8" stroke-width="2.6"/>
<line x1="1125.9" y1="778.8" x2="1125.9" y2="785.8" stroke-width="2"/>
<line x1="1150.9" y1="778.8" x2="1150.9" y2="785.8" stroke-width="2"/>
<line x1="1175.8" y1="778.8" x2="1175.8" y2="785.8" stroke-width="2"/>
<line x1="1200.8" y1="778.8" x2="1200.8" y2="785.8" stroke-width="2"/>
<line x1="111.9" y1="777.9" x2="122.9" y2="777.9" stroke-width="2.6"/>
<line x1="115.4" y1="663.5" x2="122.9" y2="663.5" stroke-width="2"/>
<line x1="115.4" y1="596.5" x2="122.9" y2="596.5" stroke-width="2"/>
<line x1="115.4" y1="549.1" x2="122.9" y2="549.1" stroke-width="2"/>
<line x1="115.4" y1="512.2" x2="122.9" y2="512.2" stroke-width="2"/>
<line x1="115.4" y1="482.1" x2="122.9" y2="482.1" stroke-width="2"/>
<line x1="115.4" y1="456.7" x2="122.9" y2="456.7" stroke-width="2"/>
<line x1="115.4" y1="434.6" x2="122.9" y2="434.6" stroke-width="2"/>
<line x1="115.4" y1="415.2" x2="122.9" y2="415.2" stroke-width="2"/>
<line x1="111.9" y1="397.8" x2="122.9" y2="397.8" stroke-width="2.6"/>
<line x1="115.4" y1="283.4" x2="122.9" y2="283.4" stroke-width="2"/>
<line x1="115.4" y1="216.4" x2="122.9" y2="216.4" stroke-width="2"/>
<line x1="115.4" y1="169.0" x2="122.9" y2="169.0" stroke-width="2"/>
<line x1="115.4" y1="132.1" x2="122.9" y2="132.1" stroke-width="2"/>
<line x1="115.4" y1="102.0" x2="122.9" y2="102.0" stroke-width="2"/>
<line x1="115.4" y1="76.6" x2="122.9" y2="76.6" stroke-width="2"/>
<line x1="115.4" y1="54.5" x2="122.9" y2="54.5" stroke-width="2"/>
<line x1="115.4" y1="35.1" x2="122.9" y2="35.1" stroke-width="2"/>
<line x1="111.9" y1="17.7" x2="122.9" y2="17.7" stroke-width="2.6"/>
</g>
<rect x="211.0" y="35.6" width="143.0" height="57.0" fill="#fff"/>
<rect x="350.5" y="70.6" width="143.0" height="57.0" fill="#fff"/>
<rect x="508.0" y="94.1" width="143.0" height="57.0" fill="#fff"/>
<rect x="642.0" y="202.1" width="143.0" height="57.0" fill="#fff"/>
<rect x="805.0" y="279.8" width="143.0" height="57.0" fill="#fff"/>
<rect x="1214.6" y="111.4" width="275.1" height="573.8" rx="4.5" ry="4.5" fill="#fff" stroke="#cccccc" stroke-width="1.6"/>
<g fill="#9467bd"><circle cx="1260.80" cy="181.10" r="6.50"/></g>
<g fill="#e377c2"><rect x="1255.50" y="219.00" width="10.60" height="10.60"/></g>
<g fill="#2ca02c"><path d="M1260.80,262.80 L1254.30,275.80 L1267.30,275.80Z"/></g>
<g fill="#9467bd"><path d="M1258.24,306.10 L1263.36,306.10 L1263.36,309.94 L1267.20,309.94 L1267.20,315.06 L1263.36,315.06 L1263.36,318.90 L1258.24,318.90 L1258.24,315.06 L1254.40,315.06 L1254.40,309.94 L1258.24,309.94Z"/></g>
<g fill="#9467bd"><path d="M1260.80,349.10 L1258.92,353.62 L1254.05,354.01 L1257.76,357.19 L1256.63,361.94 L1260.80,359.39 L1264.97,361.94 L1263.84,357.19 L1267.55,354.01 L1262.68,353.62Z"/></g>
<g fill="#ff7f0e"><path d="M1260.80,393.02 L1268.58,400.80 L1260.80,408.58 L1253.02,400.80Z"/></g>
<g fill="#2ca02c"><path d="M1260.80,435.80 L1265.72,444.00 L1260.80,452.20 L1255.88,444.00Z"/></g>
<g fill="#9467bd"><path d="M1260.80,481.40 L1254.52,485.96 L1256.92,493.34 L1264.68,493.34 L1267.08,485.96Z"/></g>
<g fill="#9467bd"><path d="M1260.80,538.50 L1254.30,525.50 L1267.30,525.50Z"/></g>
<g fill="#1f77b4"><path d="M1254.30,576.00 L1267.30,569.50 L1267.30,582.50Z"/></g>
<g fill="#ff7f0e"><path d="M1267.30,618.90 L1254.30,612.40 L1254.30,625.40Z"/></g>
<g stroke="#000"><line x1="1260.8" y1="649.4" x2="1260.8" y2="672.7" stroke-width="3.7"/><line x1="1251.8" y1="649.4" x2="1269.6" y2="649.4" stroke-width="2.8"/><line x1="1251.8" y1="672.7" x2="1269.6" y2="672.7" stroke-width="2.8"/></g><circle cx="1260.7" cy="661" r="7.5" fill="#000"/>
<text x="219.00" y="75.60" font-size="35.70" textLength="127.19" lengthAdjust="spacingAndGlyphs">(HI, 4n)</text>
<text x="357.99" y="110.60" font-size="35.70" textLength="128.23" lengthAdjust="spacingAndGlyphs">(HI, 5n)</text>
<text x="516.01" y="134.10" font-size="35.70" textLength="127.09" lengthAdjust="spacingAndGlyphs">(HI, 6n)</text>
<text x="650.00" y="242.10" font-size="35.70" textLength="127.71" lengthAdjust="spacingAndGlyphs">(HI, 7n)</text>
<text x="813.01" y="319.80" font-size="35.70" textLength="127.09" lengthAdjust="spacingAndGlyphs">(HI, 8n)</text>
<text x="207.16" y="820.90" font-size="30.00" textLength="35.88" lengthAdjust="spacingAndGlyphs">40</text>
<text x="332.36" y="820.90" font-size="30.00" textLength="35.88" lengthAdjust="spacingAndGlyphs">50</text>
<text x="456.16" y="820.90" font-size="30.00" textLength="35.88" lengthAdjust="spacingAndGlyphs">60</text>
<text x="581.56" y="820.90" font-size="30.00" textLength="35.88" lengthAdjust="spacingAndGlyphs">70</text>
<text x="706.80" y="820.90" font-size="30.00" textLength="34.79" lengthAdjust="spacingAndGlyphs">80</text>
<text x="831.98" y="820.90" font-size="30.00" textLength="35.84" lengthAdjust="spacingAndGlyphs">90</text>
<text x="946.33" y="820.90" font-size="30.00" textLength="55.31" lengthAdjust="spacingAndGlyphs">100</text>
<text x="1071.51" y="820.90" font-size="30.00" textLength="55.31" lengthAdjust="spacingAndGlyphs">110</text>
<text x="50.22" y="790.10" font-size="29.80" textLength="35.51" lengthAdjust="spacingAndGlyphs">10</text>
<text x="88.63" y="779.50" font-size="21.80" textLength="11.21" lengthAdjust="spacingAndGlyphs">0</text>
<text x="50.22" y="410.00" font-size="29.80" textLength="35.51" lengthAdjust="spacingAndGlyphs">10</text>
<text x="88.30" y="399.40" font-size="21.80" textLength="12.61" lengthAdjust="spacingAndGlyphs">1</text>
<text x="50.22" y="29.90" font-size="29.80" textLength="35.51" lengthAdjust="spacingAndGlyphs">10</text>
<text x="88.58" y="19.30" font-size="21.80" textLength="11.33" lengthAdjust="spacingAndGlyphs">2</text>
<text x="468.57" y="861.40" font-size="36.20" textLength="387.84" lengthAdjust="spacingAndGlyphs">Excitation Energy (MeV)</text>
<text transform="translate(30.40,549.50) rotate(-90)" x="-1.50" y="0" font-size="36.20" textLength="303.64" lengthAdjust="spacingAndGlyphs">Cross Section (mb)</text>
<text x="1224.39" y="143.30" font-size="31.40" textLength="256.24" lengthAdjust="spacingAndGlyphs">Target, Beam; xn</text>
<text x="1302.77" y="185.00" font-size="23.80" textLength="163.86" lengthAdjust="spacingAndGlyphs"><tspan font-size="15.9" dy="-9.1">142</tspan><tspan dy="9.1">Nd, </tspan><tspan font-size="15.9" dy="-9.1">11</tspan><tspan dy="9.1">B; 4n</tspan></text>
<text x="1302.76" y="228.86" font-size="23.80" textLength="154.88" lengthAdjust="spacingAndGlyphs"><tspan font-size="15.9" dy="-9.1">141</tspan><tspan dy="9.1">Pr, </tspan><tspan font-size="15.9" dy="-9.1">12</tspan><tspan dy="9.1">C; 4n</tspan></text>
<text x="1302.77" y="272.72" font-size="23.80" textLength="162.26" lengthAdjust="spacingAndGlyphs"><tspan font-size="15.9" dy="-9.1">140</tspan><tspan dy="9.1">Ce, </tspan><tspan font-size="15.9" dy="-9.1">14</tspan><tspan dy="9.1">N; 5n</tspan></text>
<text x="1302.77" y="316.58" font-size="23.80" textLength="163.86" lengthAdjust="spacingAndGlyphs"><tspan font-size="15.9" dy="-9.1">144</tspan><tspan dy="9.1">Nd, </tspan><tspan font-size="15.9" dy="-9.1">10</tspan><tspan dy="9.1">B; 5n</tspan></text>
<text x="1302.77" y="360.44" font-size="23.80" textLength="163.86" lengthAdjust="spacingAndGlyphs"><tspan font-size="15.9" dy="-9.1">144</tspan><tspan dy="9.1">Nd, </tspan><tspan font-size="15.9" dy="-9.1">11</tspan><tspan dy="9.1">B; 6n</tspan></text>
<text x="1302.77" y="404.30" font-size="23.80" textLength="160.86" lengthAdjust="spacingAndGlyphs"><tspan font-size="15.9" dy="-9.1">139</tspan><tspan dy="9.1">La, </tspan><tspan font-size="15.9" dy="-9.1">16</tspan><tspan dy="9.1">O; 6n</tspan></text>
<text x="1302.77" y="448.16" font-size="23.80" textLength="162.26" lengthAdjust="spacingAndGlyphs"><tspan font-size="15.9" dy="-9.1">140</tspan><tspan dy="9.1">Ce, </tspan><tspan font-size="15.9" dy="-9.1">15</tspan><tspan dy="9.1">N; 6n</tspan></text>
<text x="1302.77" y="492.02" font-size="23.80" textLength="164.26" lengthAdjust="spacingAndGlyphs"><tspan font-size="15.9" dy="-9.1">146</tspan><tspan dy="9.1">Nd, </tspan><tspan font-size="15.9" dy="-9.1">10</tspan><tspan dy="9.1">B; 7n</tspan></text>
<text x="1302.77" y="535.88" font-size="23.80" textLength="164.26" lengthAdjust="spacingAndGlyphs"><tspan font-size="15.9" dy="-9.1">146</tspan><tspan dy="9.1">Nd, </tspan><tspan font-size="15.9" dy="-9.1">11</tspan><tspan dy="9.1">B; 8n</tspan></text>
<text x="1302.76" y="579.74" font-size="23.80" textLength="160.29" lengthAdjust="spacingAndGlyphs"><tspan font-size="15.9" dy="-9.1">138</tspan><tspan dy="9.1">Ba, </tspan><tspan font-size="15.9" dy="-9.1">19</tspan><tspan dy="9.1">F; 8n</tspan></text>
<text x="1302.76" y="623.60" font-size="23.80" textLength="161.47" lengthAdjust="spacingAndGlyphs"><tspan font-size="15.9" dy="-9.1">139</tspan><tspan dy="9.1">La, </tspan><tspan font-size="15.9" dy="-9.1">18</tspan><tspan dy="9.1">O; 8n</tspan></text>
<text x="1302.77" y="667.46" font-size="23.80" textLength="162.26" lengthAdjust="spacingAndGlyphs"><tspan font-size="15.9" dy="-9.1">149</tspan><tspan dy="9.1">Sm, </tspan><tspan font-size="15.9" dy="-9.1">6</tspan><tspan dy="9.1">Li; 6n</tspan></text>
</svg></body></html>
